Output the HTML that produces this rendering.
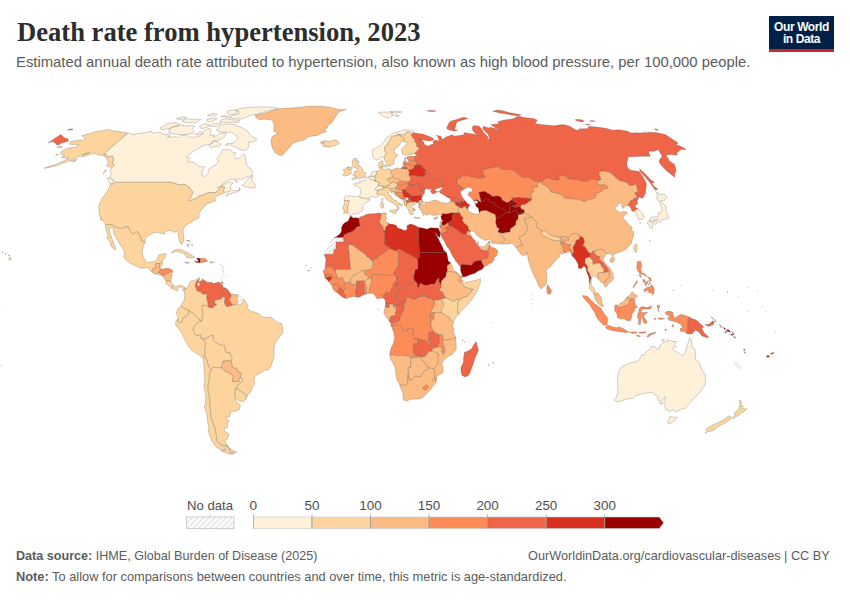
<!DOCTYPE html>
<html><head><meta charset="utf-8">
<style>
html,body{margin:0;padding:0;background:#fff;}
body{width:850px;height:600px;position:relative;overflow:hidden;font-family:"Liberation Sans",sans-serif;}
.abs{position:absolute;white-space:nowrap;}
#title{left:17px;top:12px;transform:scaleX(0.985);font-family:"Liberation Serif",serif;font-weight:bold;font-size:27px;line-height:40px;color:#2d2d2d;transform-origin:left center;}
#sub{left:16px;top:52px;transform:scaleX(0.9895);font-size:15px;line-height:20px;color:#5b5b5b;transform-origin:left center;}
#logo{left:769px;top:16px;width:65px;height:36px;background:#002147;border-bottom:3px solid #ce261e;box-sizing:border-box;color:#fff;font-weight:bold;font-size:12px;line-height:12px;text-align:center;letter-spacing:-0.4px;}
#logo span{display:block;}
.foot{font-size:13px;line-height:16px;color:#5b5b5b;transform-origin:left center;}
.leg{font-size:14px;line-height:16px;color:#4a4a4a;}
</style></head><body>
<div id="title" class="abs">Death rate from hypertension, 2023</div>
<div id="sub" class="abs">Estimated annual death rate attributed to hypertension, also known as high blood pressure, per 100,000 people.</div>
<div id="logo" class="abs"><span style="margin-top:5px">Our World</span><span>in Data</span></div>
<svg class="abs" style="left:0;top:85px" width="850" height="400" viewBox="0 85 850 400">
<defs><pattern id="nd" patternUnits="userSpaceOnUse" width="3.2" height="3.2" patternTransform="rotate(45)"><rect width="3.2" height="3.2" fill="#fff"/><line x1="1.6" y1="0" x2="1.6" y2="3.2" stroke="#d0d0d0" stroke-width="0.9"/></pattern></defs>
<g stroke="#444" stroke-opacity="0.55" stroke-width="0.45" stroke-linejoin="round">
<path fill="#fef0d9" d="M127.9 133.1L131.0 133.3L132.7 134.6L137.2 133.7L141.0 133.3L147.6 132.0L151.6 131.3L152.7 133.3L156.4 132.2L160.1 132.6L164.9 134.4L169.7 134.6L170.1 135.9L167.3 137.1L176.0 136.8L178.6 137.7L180.9 135.3L186.3 134.8L189.4 137.1L196.2 137.1L200.4 136.2L202.4 133.7L203.8 131.1L209.0 128.1L211.4 130.0L210.6 132.8L210.2 135.5L214.9 134.8L213.1 137.7L220.3 133.3L225.6 132.8L225.7 135.5L222.2 138.8L216.7 140.7L213.4 140.4L212.1 143.4L208.7 144.6L203.5 145.7L197.9 148.5L193.1 151.6L188.4 155.1L186.5 157.5L189.6 158.0L188.0 161.9L191.8 161.9L195.5 163.6L199.5 166.6L204.6 166.8L201.9 172.3L202.4 176.0L204.5 176.8L208.0 173.5L209.1 168.5L215.8 164.8L218.7 161.2L216.6 158.0L220.1 155.1L222.5 149.5L230.5 149.7L232.7 152.3L236.1 152.8L234.2 156.3L235.8 158.8L238.9 158.3L243.5 154.4L244.5 154.2L245.8 159.5L245.9 163.6L247.6 166.6L251.4 169.3L252.8 173.5L252.8 175.3L246.8 176.8L241.9 179.3L234.9 179.3L229.9 179.3L224.8 182.3L220.4 186.2L217.3 187.9L221.7 185.4L226.6 182.9L230.0 181.8L233.1 182.9L231.0 184.9L230.5 187.4L230.5 189.5L233.3 190.5L236.3 190.8L239.6 190.0L239.7 187.4L240.0 190.0L236.9 192.0L231.3 193.6L226.3 196.4L225.2 195.1L228.5 192.6L229.9 191.3L226.6 192.0L224.4 192.3L223.3 190.8L224.5 187.2L221.9 186.4L219.5 188.7L216.8 191.8L215.0 192.6L208.4 192.6L204.4 194.6L198.1 196.4L197.4 198.2L193.9 199.3L189.1 200.8L188.2 199.8L190.5 197.7L193.0 191.8L191.3 190.0L189.7 188.7L189.7 187.4L184.0 184.1L181.2 184.9L178.3 184.6L174.8 183.4L170.9 182.3L161.2 182.3L141.0 182.3L114.4 182.3L115.3 181.6L113.5 179.8L110.3 177.3L111.2 173.5L110.2 171.0L111.4 167.8L114.3 165.1L112.3 163.4L113.4 158.8L112.4 155.9L107.1 157.5L106.7 155.1L103.7 154.4L115.7 143.4L127.9 133.1ZM245.3 150.6L240.4 149.7L234.7 146.9L230.3 145.3L225.2 145.0L227.1 143.4L233.2 143.4L238.4 137.7L235.0 135.0L233.1 132.8L230.3 132.2L222.0 132.2L216.3 130.0L221.7 124.7L228.6 124.1L234.4 124.7L238.0 126.2L242.9 128.3L247.5 131.1L249.7 134.4L253.7 137.7L257.1 139.5L252.2 142.3L248.1 141.8L249.0 146.9ZM171.9 127.9L168.6 129.4L170.0 131.1L168.6 132.4L172.9 133.9L181.3 134.8L186.7 134.4L193.6 133.3L193.9 131.1L191.9 129.0L194.7 126.2L190.8 125.4L186.7 126.2L181.5 125.1L173.7 126.4ZM159.8 127.9L161.6 129.8L167.7 128.7L177.6 125.8L179.9 124.5L177.7 123.1L173.6 122.7L168.0 123.3L164.0 125.8ZM240.9 119.2L245.4 117.6L251.6 115.1L258.0 113.8L266.3 111.1L274.9 109.4L278.1 108.1L270.2 107.0L260.8 106.9L250.7 107.3L241.3 108.3L235.3 109.7L238.8 111.4L239.4 113.4L232.9 115.3L228.1 117.6L233.9 118.6ZM238.1 122.2L239.8 120.4L232.6 119.8L224.7 118.6L220.9 120.0L220.1 122.2L229.9 122.7ZM227.4 112.0L228.7 115.1L236.1 113.8L237.8 111.1L233.6 109.9L227.4 110.9ZM198.2 121.6L193.9 122.7L186.1 122.7L181.9 121.0L186.2 119.0L195.3 119.0L200.7 119.6ZM209.2 126.2L217.4 126.8L221.1 123.7L212.4 123.7ZM199.5 126.2L201.7 129.0L207.8 126.8L208.8 124.1L204.5 123.7ZM208.8 145.7L211.1 147.6L217.2 146.4L221.4 144.6L217.8 141.6L213.7 141.1ZM207.6 121.6L212.2 121.6L217.1 118.6L213.1 118.2L206.8 119.6ZM182.9 119.2L177.7 119.6L176.4 118.4L183.6 116.6L186.6 117.6ZM195.1 134.4L198.6 135.3L203.2 133.7L201.0 131.5ZM242.3 185.7L248.5 187.7L254.5 188.2L255.7 185.9L254.4 183.1L251.5 180.6L252.6 176.0L249.0 177.8L245.0 182.3ZM107.2 178.0L109.4 182.9L113.0 183.9L112.5 179.8L109.1 177.5ZM104.5 169.8L103.3 174.3L107.0 170.3ZM234.6 180.3L238.1 181.8L236.0 182.1ZM220.9 116.6L228.0 117.0L225.1 115.7ZM207.3 115.7L215.7 116.1L217.1 113.8L211.8 113.4Z"/>
<path fill="#fdd49e" d="M114.4 182.3L113.5 184.4L110.4 183.9L109.2 187.7L108.3 189.5L104.7 195.1L102.0 198.2L101.2 200.8L99.0 204.4L98.9 206.8L99.0 210.2L99.3 211.7L99.4 214.3L100.3 216.9L100.1 219.6L103.0 220.9L104.1 221.6L105.5 224.8L111.1 224.5L118.0 228.2L124.2 228.2L124.6 226.9L128.3 226.9L131.1 232.4L133.5 234.2L135.9 232.1L138.1 232.1L140.1 236.3L140.8 238.1L141.3 241.0L145.1 242.3L145.5 238.1L148.1 235.5L151.9 233.7L154.9 232.4L158.8 232.6L161.9 233.7L164.5 233.9L164.7 231.1L168.1 230.8L171.5 230.5L173.7 232.4L176.9 231.3L178.5 233.9L178.5 237.3L179.4 240.7L180.7 244.1L182.4 244.1L184.0 239.9L183.5 235.5L182.9 230.3L184.7 226.4L188.6 223.7L192.5 221.4L195.8 219.3L198.9 217.7L198.9 213.6L199.8 212.0L201.8 209.4L202.8 208.1L205.5 205.5L206.0 203.9L210.6 202.9L212.7 201.6L215.4 201.1L214.6 199.0L215.1 197.5L217.5 195.7L220.7 194.4L224.2 193.1L224.4 192.3L223.3 190.8L224.5 187.2L221.9 186.4L219.5 188.7L216.8 191.8L215.0 192.6L208.4 192.6L204.4 194.6L198.1 196.4L197.4 198.2L193.9 199.3L189.1 200.8L188.2 199.8L190.5 197.7L193.0 191.8L191.3 190.0L189.7 188.7L189.7 187.4L184.0 184.1L181.2 184.9L178.3 184.6L174.8 183.4L170.9 182.3L161.2 182.3L141.0 182.3L114.4 182.3ZM127.9 133.1L115.7 143.4L103.7 154.4L106.7 155.1L107.1 157.5L112.4 155.9L113.4 158.8L112.3 163.4L114.3 165.1L111.4 167.8L110.4 167.3L106.7 166.1L108.1 162.4L107.1 159.5L106.1 157.5L104.1 155.9L101.2 155.1L97.5 155.1L95.8 153.2L91.4 154.0L86.8 155.6L81.5 157.1L84.0 154.0L89.6 152.3L79.5 156.3L75.0 158.8L68.7 161.2L62.2 163.6L56.3 165.6L49.7 167.3L44.2 168.3L50.1 166.1L55.2 164.8L63.0 161.2L69.0 158.3L66.5 158.0L61.5 157.5L64.3 155.1L60.5 153.7L61.6 151.3L66.9 148.5L71.7 147.6L76.2 146.9L79.1 144.6L75.6 144.6L69.7 144.3L70.0 142.0L75.5 140.7L80.2 139.8L82.4 140.7L85.7 138.8L83.6 137.3L81.6 135.7L85.7 134.6L90.9 133.3L96.0 131.5L103.3 130.5L107.7 129.2L110.2 130.2L113.9 131.1L118.6 131.3L122.4 132.2ZM71.0 161.7L75.0 161.4L77.4 159.5L74.7 160.0ZM56.8 147.1L60.7 147.8L62.3 146.9L60.2 146.2ZM55.6 154.7L57.2 155.4L58.4 154.2ZM9.0 258.5L9.3 260.5L11.6 259.0L9.6 256.9ZM8.2 255.4L9.6 256.2L9.6 255.1ZM4.9 253.8L6.2 254.3L6.0 253.3ZM1.9 252.2L2.9 252.8L2.9 251.8Z"/>
<path fill="#fdd49e" d="M145.1 242.3L141.3 241.0L140.8 238.1L140.1 236.3L138.1 232.1L135.9 232.1L133.5 234.2L131.1 232.4L128.3 226.9L124.6 226.9L124.2 228.2L118.0 228.2L111.1 224.5L105.5 224.8L105.6 227.7L106.5 231.1L107.6 234.7L108.3 236.8L106.4 237.3L109.0 240.2L110.9 244.7L111.1 246.0L113.9 249.1L115.0 250.1L116.2 248.6L114.5 246.0L113.5 242.0L111.8 238.1L110.6 234.2L109.4 230.3L110.0 227.1L113.5 228.4L113.5 232.1L115.5 236.8L117.9 240.7L119.4 243.9L122.1 247.3L123.8 250.4L124.8 253.8L123.7 256.7L126.1 260.1L129.8 262.9L132.9 264.8L137.2 266.6L141.5 268.4L146.2 267.7L148.4 268.2L152.1 272.1L152.3 270.3L153.7 267.9L156.5 267.9L155.7 265.0L155.9 263.5L160.0 263.5L162.2 261.6L164.4 259.0L166.0 255.1L165.8 253.8L162.8 253.8L158.6 255.1L157.1 259.0L155.0 261.6L151.5 261.9L148.0 262.4L145.3 260.9L144.1 258.2L142.7 255.1L142.2 251.2L143.0 247.3Z"/>
<path fill="#fdbb84" d="M152.1 272.1L154.0 273.7L156.7 274.1L158.5 272.4L159.0 271.8L161.4 269.0L160.0 268.4L159.4 268.4L160.0 263.5L155.9 263.5L155.7 265.0L156.5 267.9L153.7 267.9L152.3 270.3Z"/>
<path fill="#fdd49e" d="M159.4 268.4L160.0 268.4L161.6 266.9L162.4 264.3L162.7 261.9L162.2 261.6L160.0 263.2Z"/>
<path fill="#fdd49e" d="M156.7 274.1L159.1 275.0L161.8 275.5L162.2 273.9L160.4 273.4L158.5 272.4Z"/>
<path fill="#fc8d59" d="M161.4 269.0L164.4 268.7L166.7 268.2L168.9 268.4L171.1 269.2L172.8 270.8L170.9 271.6L168.5 272.9L166.1 273.9L164.2 275.2L162.9 276.1L161.8 275.5L162.2 273.9L160.4 273.4L158.5 272.4L159.0 271.8Z"/>
<path fill="#fdbb84" d="M172.8 270.8L172.0 274.7L171.2 278.6L170.8 281.2L168.5 281.2L166.2 281.0L164.5 279.2L162.9 276.1L164.2 275.2L166.1 273.9L168.5 272.9L170.9 271.6Z"/>
<path fill="#fdd49e" d="M170.8 281.2L172.2 283.9L173.1 284.9L172.2 288.8L170.9 287.8L168.7 285.2L166.0 283.9L166.2 281.0L168.5 281.2Z"/>
<path fill="#fdd49e" d="M173.1 284.9L175.5 286.7L179.0 285.7L181.4 285.2L183.8 286.7L184.9 287.5L185.1 289.4L183.6 291.2L182.3 288.3L180.1 286.7L178.2 288.6L177.6 290.9L175.4 290.1L172.2 288.8Z"/>
<path fill="#fdd49e" d="M171.1 252.8L173.4 250.7L176.9 249.6L181.4 249.6L184.6 251.4L187.8 253.0L191.0 254.8L194.8 257.2L192.9 258.0L187.2 258.0L186.3 255.9L183.2 253.3L178.9 252.0L176.0 251.2L173.2 252.5Z"/>
<path fill="#fdbb84" d="M184.9 261.9L189.4 262.7L188.0 263.5L185.1 262.7Z"/>
<path fill="#990000" d="M193.9 261.4L196.9 262.4L199.9 262.7L200.3 258.5L197.4 258.0L196.4 258.8L197.9 259.6L198.4 261.4Z"/>
<path fill="#fc8d59" d="M200.3 258.5L204.2 258.2L206.3 259.6L207.5 261.4L205.0 261.9L201.5 262.4L199.9 262.7Z"/>
<path fill="#fdd49e" d="M210.2 261.6L213.8 261.9L213.3 262.9L210.1 262.9Z"/>
<path fill="#ef6548" d="M187.1 244.4L188.2 246.5L188.7 244.7ZM186.6 240.5L188.9 240.2L190.0 241.5L190.1 242.3L189.5 240.7ZM191.7 244.1L192.3 246.0L192.1 244.1Z"/>
<path fill="#fc8d59" d="M221.0 282.0L222.9 281.8L222.8 283.6L221.0 283.6Z"/>
<path fill="#fdbb84" d="M255.1 115.3L268.3 112.0L279.8 108.6L294.2 107.8L308.9 106.3L322.5 106.2L332.7 107.8L337.8 109.4L346.2 109.4L338.6 112.0L336.3 115.7L333.9 119.6L331.7 122.7L327.8 125.8L327.4 127.9L323.7 130.0L326.6 131.5L321.3 133.3L317.4 135.5L308.7 136.6L304.3 140.0L296.8 141.8L292.8 143.4L290.0 146.9L284.5 152.8L282.8 155.1L279.9 155.4L275.3 152.8L273.0 149.2L271.7 145.7L271.0 141.1L272.2 136.6L277.9 133.3L273.9 131.1L273.9 127.9L274.1 124.7L272.8 121.6L271.1 119.6L265.3 119.2L258.9 119.6L256.0 117.6Z"/>
<path fill="#fdd49e" d="M320.2 142.3L325.0 140.2L328.2 141.8L331.8 140.7L335.4 140.0L337.8 141.1L339.3 143.4L336.5 145.0L330.9 146.9L326.5 146.9L322.7 146.2L324.2 144.6L320.9 143.6L324.6 142.5Z"/>
<path fill="#fdd49e" d="M243.7 299.0L245.3 300.9L247.6 305.3L247.6 308.7L249.9 310.0L251.0 311.8L253.3 311.6L259.1 313.9L261.4 316.5L266.1 317.3L270.7 317.3L274.2 319.7L277.7 322.8L281.6 323.6L282.9 328.8L282.5 333.5L279.1 337.4L276.9 340.6L274.8 344.0L273.8 349.2L274.2 356.5L272.3 362.3L270.3 367.5L268.2 370.0L264.9 370.1L261.6 372.2L257.3 374.6L254.2 377.4L254.3 381.9L254.4 384.8L252.1 387.9L250.5 392.3L248.2 394.2L246.2 398.1L246.2 395.5L244.1 393.4L240.3 390.8L237.2 388.9L235.4 388.9L238.7 384.0L242.4 381.4L242.6 379.3L240.5 376.9L240.8 373.0L238.3 372.7L237.5 369.1L236.5 368.3L232.4 367.8L231.4 361.8L231.9 357.1L230.2 355.2L229.8 352.6L225.6 352.3L224.5 345.8L219.8 344.8L215.6 342.7L213.1 340.1L212.9 335.6L210.1 335.9L205.7 338.8L203.2 338.8L200.9 338.8L200.7 334.8L197.0 335.9L194.7 334.6L193.0 329.1L194.8 325.7L197.0 323.1L199.5 321.2L201.5 321.0L202.8 313.1L201.8 308.7L201.9 305.6L206.0 305.3L208.5 306.9L211.8 307.9L216.7 304.2L214.1 303.5L215.4 299.5L218.4 299.5L221.1 298.8L223.1 296.4L224.4 296.4L225.3 298.2L224.5 302.2L225.0 304.0L226.8 306.6L229.1 306.1L232.6 305.0L233.7 305.0L237.0 304.0L239.5 304.2L241.8 303.5L243.7 299.0Z"/>
<path fill="#fdd49e" d="M184.9 287.5L186.2 289.1L188.2 285.7L189.5 282.6L191.2 281.0L194.3 280.5L197.1 278.9L199.5 277.6L199.4 279.2L196.8 281.0L195.2 285.2L196.2 288.3L197.2 290.9L200.6 291.7L202.8 294.1L207.5 293.8L206.6 298.2L207.7 301.4L208.5 306.9L206.0 305.3L201.9 305.6L201.8 308.7L202.8 313.1L201.5 321.0L199.9 319.9L195.7 316.3L193.3 313.9L189.1 310.3L186.4 309.2L183.4 307.9L181.1 306.3L181.8 303.5L184.2 300.1L184.8 295.6L184.5 292.2L183.6 291.2L185.1 289.4Z"/>
<path fill="#ef6548" d="M199.4 279.2L198.3 281.8L199.9 281.5L202.3 279.9L202.4 278.4L203.5 279.9L206.2 281.2L206.8 282.6L211.4 282.3L213.6 283.6L216.0 282.8L219.4 282.0L220.5 283.9L222.7 285.2L223.1 287.5L224.9 287.8L223.2 290.4L222.0 293.0L221.7 294.6L223.1 296.4L221.1 298.8L218.4 299.5L215.4 299.5L214.1 303.5L216.7 304.2L211.8 307.9L208.5 306.9L207.7 301.4L206.6 298.2L207.5 293.8L202.8 294.1L200.6 291.7L197.2 290.9L196.2 288.3L195.2 285.2L196.8 281.0L199.4 279.2Z"/>
<path fill="#ef6548" d="M224.9 287.8L227.2 289.1L229.4 292.2L231.2 294.6L230.9 296.9L229.2 299.5L230.3 301.4L232.6 305.0L229.1 306.1L226.8 306.6L225.0 304.0L224.5 302.2L225.3 298.2L224.4 296.4L223.1 296.4L221.7 294.6L222.0 293.0L223.2 290.4L224.9 287.8Z"/>
<path fill="#fdbb84" d="M231.2 294.6L234.2 294.6L238.5 294.8L237.5 298.2L237.9 301.6L237.0 304.0L233.7 305.0L232.6 305.0L230.3 301.4L229.2 299.5L230.9 296.9L231.2 294.6Z"/>
<path fill="url(#nd)" stroke="#bbb" d="M238.5 294.8L241.9 297.2L243.7 299.0L241.8 303.5L239.5 304.2L237.0 304.0L237.9 301.6L237.5 298.2L238.5 294.8Z"/>
<path fill="#fdd49e" d="M181.1 306.3L178.3 307.9L177.1 311.3L176.0 312.9L177.7 316.5L177.7 318.9L177.8 321.5L179.7 322.8L182.0 321.8L183.0 317.8L186.4 316.5L188.7 313.9L189.1 310.3L186.4 309.2L183.4 307.9L181.1 306.3Z"/>
<path fill="#fdd49e" d="M177.7 318.9L175.5 322.0L175.9 325.7L179.2 328.8L182.5 334.8L185.1 340.1L188.3 346.1L191.7 350.5L197.7 353.9L202.9 357.8L204.7 355.7L205.5 352.3L204.4 349.2L205.3 347.1L205.5 342.7L203.2 338.8L200.9 338.8L200.7 334.8L197.0 335.9L194.7 334.6L193.0 329.1L194.8 325.7L197.0 323.1L199.5 321.2L201.5 321.0L199.9 319.9L195.7 316.3L193.3 313.9L189.1 310.3L188.7 313.9L186.4 316.5L183.0 317.8L182.0 321.8L179.7 322.8L177.8 321.5L177.7 318.9Z"/>
<path fill="#fdd49e" d="M203.2 338.8L205.7 338.8L210.1 335.9L212.9 335.6L213.1 340.1L215.6 342.7L219.8 344.8L224.5 345.8L225.6 352.3L229.8 352.6L230.2 355.2L231.9 357.1L231.4 361.8L229.0 360.4L223.0 361.2L221.6 368.0L218.4 367.5L216.1 367.8L213.1 367.0L211.3 369.6L209.3 367.5L207.8 363.6L207.1 361.0L204.7 355.7L205.5 352.3L204.4 349.2L205.3 347.1L205.5 342.7L203.2 338.8Z"/>
<path fill="#fdd49e" d="M202.9 357.8L203.8 362.3L204.1 371.4L204.8 378.0L204.0 385.8L204.8 391.0L205.9 396.3L205.5 402.8L204.5 407.2L206.6 413.2L207.2 418.4L207.9 423.6L208.8 427.4L208.5 432.1L210.1 436.4L212.0 441.5L214.5 445.2L217.2 447.7L220.7 449.5L223.9 450.0L224.9 449.7L224.5 447.0L226.1 446.0L228.3 446.2L225.9 445.5L220.8 445.2L219.1 442.7L216.1 440.2L216.7 437.7L216.0 433.1L215.5 428.7L213.3 423.6L211.0 417.1L210.7 411.9L209.8 406.7L210.0 401.5L209.4 396.3L208.1 389.7L208.2 384.5L209.6 378.7L209.4 374.0L211.3 369.6L209.3 367.5L207.8 363.6L207.1 361.0L204.7 355.7L202.9 357.8ZM228.3 447.0L226.4 446.7L225.4 449.0L226.4 450.5L220.8 450.5L225.1 452.7L230.6 454.2L232.6 454.2L234.1 453.4L230.6 452.4Z"/>
<path fill="#fdd49e" d="M228.3 446.2L225.7 442.7L225.0 440.9L226.9 438.9L229.2 434.6L224.6 431.3L224.2 428.7L227.5 427.4L227.3 423.6L229.0 421.0L225.4 417.1L229.6 417.1L230.3 413.2L230.3 411.7L236.6 410.9L239.5 409.3L240.4 405.4L238.7 403.6L235.5 399.7L235.3 398.6L235.1 396.3L235.1 392.3L235.4 388.9L238.7 384.0L242.4 381.4L242.6 379.3L240.5 376.9L238.4 381.6L236.8 381.6L232.0 381.1L233.5 376.1L230.2 373.5L225.5 371.4L221.6 368.0L218.4 367.5L216.1 367.8L213.1 367.0L211.3 369.6L209.4 374.0L209.6 378.7L208.2 384.5L208.1 389.7L209.4 396.3L210.0 401.5L209.8 406.7L210.7 411.9L211.0 417.1L213.3 423.6L215.5 428.7L216.0 433.1L216.7 437.7L216.1 440.2L219.1 442.7L220.8 445.2L225.9 445.5L228.3 446.2ZM228.3 447.0L230.1 448.5L234.0 451.0L237.0 451.9L234.8 452.8L230.6 452.4Z"/>
<path fill="#fdbb84" d="M221.6 368.0L225.5 371.4L230.2 373.5L233.5 376.1L232.0 381.1L236.8 381.6L238.4 381.6L240.5 376.9L240.8 373.0L238.3 372.7L237.5 369.1L236.5 368.3L232.4 367.8L231.4 361.8L229.0 360.4L223.0 361.2L221.6 368.0Z"/>
<path fill="#fdd49e" d="M235.3 398.6L238.7 400.4L241.1 401.2L243.5 401.4L246.1 398.9L246.2 398.1L246.2 395.5L244.1 393.4L240.3 390.8L237.2 388.9L235.4 388.9L235.1 392.3L235.1 396.3L235.3 398.6Z"/>
<path fill="#ef6548" d="M414.6 132.8L418.1 133.5L423.4 134.2L431.1 137.3L434.2 139.1L432.2 140.4L428.9 140.9L423.4 140.0L419.9 139.8L418.7 138.6L423.5 141.6L424.2 144.6L427.8 145.9L430.1 145.9L430.1 144.8L433.5 144.3L434.4 144.6L432.8 142.3L433.3 141.1L435.5 140.0L439.3 140.9L439.8 141.3L438.5 138.8L437.3 135.5L436.0 135.3L440.9 136.2L442.2 139.3L443.7 138.8L445.6 137.3L452.2 134.8L454.5 136.2L459.2 135.5L464.0 134.8L464.5 132.6L463.5 132.4L470.9 133.7L475.6 134.6L478.9 135.9L474.7 133.1L473.2 131.1L472.2 129.0L472.8 126.2L474.6 125.4L479.2 126.2L481.6 129.0L484.0 133.3L487.8 136.6L487.6 140.4L488.2 140.0L489.4 137.7L488.1 134.4L482.8 129.0L483.2 126.2L488.5 127.9L489.6 127.2L494.5 128.3L499.9 131.1L497.4 129.0L490.8 124.7L498.6 123.7L498.2 121.6L504.3 120.0L512.4 119.0L518.5 116.2L524.3 117.6L533.2 118.6L537.3 120.0L534.9 123.7L536.9 124.1L543.2 124.7L551.1 125.4L554.8 125.8L558.8 125.1L563.6 124.5L569.7 126.2L574.8 129.6L578.3 130.5L578.9 129.0L582.7 128.7L587.6 128.7L588.2 126.8L590.9 126.4L598.5 127.2L606.8 128.5L612.5 130.2L618.4 129.8L626.9 131.1L631.7 133.3L634.4 132.8L641.4 133.1L645.1 132.2L648.4 134.4L646.7 132.2L655.7 132.6L665.2 134.4L677.7 142.7L677.1 144.1L674.7 143.9L679.4 145.7L684.2 148.0L686.0 149.7L681.5 149.2L679.2 150.9L677.1 152.8L677.0 155.1L670.1 154.4L667.3 155.1L665.7 155.4L668.7 158.8L668.8 160.5L674.5 164.4L675.3 167.3L676.0 171.8L674.8 173.5L674.8 177.3L669.9 173.5L665.5 169.8L660.7 164.8L658.9 161.2L660.3 158.8L662.2 156.3L659.3 151.6L658.4 149.5L653.8 151.6L652.0 150.9L648.4 151.6L650.2 156.3L642.8 156.3L637.4 156.6L632.1 156.8L628.4 156.8L627.2 161.2L626.8 164.8L628.2 168.5L630.7 170.3L636.3 171.0L639.5 171.8L641.5 174.8L644.6 179.8L646.4 183.6L646.1 187.4L645.3 193.8L642.8 198.2L639.1 197.2L637.8 199.3L637.7 199.5L636.5 198.2L636.9 196.4L634.2 192.8L637.9 192.0L636.1 184.1L632.5 185.4L629.6 185.7L626.5 182.6L618.9 180.3L610.3 172.8L604.1 171.0L599.2 171.5L598.9 173.3L601.1 179.3L599.7 180.8L597.0 180.1L592.0 179.1L586.5 181.6L579.9 180.6L576.0 179.1L569.0 179.1L566.1 176.5L558.5 174.8L559.0 177.3L559.4 179.8L557.7 180.3L553.4 179.8L546.3 177.8L542.9 180.8L539.9 181.8L539.0 182.1L535.9 181.1L534.2 180.8L528.1 177.3L522.4 177.8L515.1 171.5L511.6 169.5L505.9 169.8L501.2 169.3L499.4 166.6L494.5 167.3L489.7 168.3L482.6 169.8L483.2 174.0L485.2 176.8L481.8 178.5L472.4 177.3L468.1 176.0L463.6 175.5L459.8 178.3L457.0 179.1L457.2 183.9L459.6 185.4L463.4 188.2L464.0 189.2L460.9 191.0L460.4 193.1L462.5 197.7L465.2 200.7L463.0 202.1L461.0 200.7L457.4 198.5L454.1 198.0L450.8 197.2L446.6 196.7L443.0 194.4L440.3 193.1L439.0 191.5L441.1 189.5L443.3 187.2L441.0 187.2L443.9 185.1L443.6 180.8L439.2 180.1L433.9 178.8L431.1 176.8L429.0 174.0L425.8 174.5L424.3 172.0L426.9 171.3L422.5 167.8L422.8 167.3L422.3 165.8L416.8 164.5L415.5 161.7L414.6 161.1L414.7 160.3L414.1 158.3L415.0 156.5L415.7 155.6L418.7 155.4L415.3 154.0L414.0 153.8L415.9 152.3L417.3 150.4L419.5 148.3L416.3 146.2L416.6 143.9L414.8 142.0L414.8 140.0L412.4 137.3L411.1 135.5L411.5 134.3L411.6 133.9L413.0 132.8ZM401.0 168.7L401.6 167.4L403.4 166.6L404.0 166.7L407.0 167.3L407.2 168.9ZM446.6 128.3L447.7 125.8L449.1 122.7L451.2 121.0L457.6 119.2L462.5 117.6L465.5 117.6L467.8 118.6L462.8 120.0L457.8 121.6L456.0 123.7L455.5 126.8L454.5 129.4L457.7 130.9L453.6 130.9L447.9 129.4ZM492.7 111.3L498.0 109.9L503.6 110.9L508.6 112.5L514.2 113.4L521.1 114.7L517.5 115.9L510.1 114.7L504.5 113.8L498.8 112.7ZM575.9 120.6L582.0 122.0L584.3 121.0L580.4 119.6L575.5 119.4ZM589.3 121.2L595.8 121.4L592.1 120.6ZM585.3 124.7L590.6 125.1L587.2 123.9ZM655.6 130.0L658.5 130.2L656.3 129.0L654.3 128.7ZM426.8 110.8L430.8 110.4L436.0 110.8L434.4 111.4L430.0 111.4ZM639.5 168.8L644.9 173.5L650.6 179.8L654.6 182.3L651.9 182.9L654.2 186.7L656.7 187.9L657.6 189.5L655.1 190.0L652.4 186.2L649.7 182.3L645.5 177.3L642.4 174.3L640.2 171.5ZM60.8 134.4L62.6 135.9L64.2 137.7L67.7 138.8L68.6 140.7L68.7 140.9L65.8 142.0L61.6 142.9L59.0 144.8L57.3 145.0L55.9 144.1L55.2 142.7L53.3 142.3L52.7 141.1L50.7 142.3L48.3 142.7ZM67.5 130.2L72.4 129.8L73.0 129.0L69.7 129.0Z"/>
<path fill="#fef0d9" d="M384.4 157.5L382.5 156.8L380.7 158.0L378.0 159.7L376.1 160.0L373.5 158.3L372.6 155.1L372.1 151.6L372.4 149.9L375.5 148.3L378.1 146.9L380.7 145.7L382.3 143.6L384.7 141.1L385.3 138.8L387.7 137.1L389.2 135.9L390.8 134.8L393.0 133.3L396.2 132.2L399.4 131.5L401.7 130.7L405.2 129.8L408.9 130.0L412.4 130.9L414.3 131.5L413.0 132.8L411.6 133.9L411.5 134.3L410.4 132.6L409.2 132.0L406.2 132.4L406.0 133.9L403.4 135.0L400.0 134.6L397.6 134.3L396.8 135.7L393.5 135.9L391.1 137.1L389.8 140.4L388.3 142.3L387.7 145.0L385.2 146.2L384.5 148.0L385.2 151.6L386.0 152.5L385.6 154.4L384.8 155.9L384.4 157.5ZM378.2 112.9L382.2 115.3L383.9 116.6L388.0 118.4L390.7 116.6L394.0 115.1L390.7 113.8L393.2 112.3L386.0 112.0L378.8 112.3ZM390.2 111.6L394.9 113.1L401.8 112.2L400.0 111.3L394.3 111.1ZM394.8 115.3L398.1 116.6L399.4 115.9L396.8 114.7Z"/>
<path fill="#fdd49e" d="M384.4 157.5L384.0 159.2L385.7 161.7L387.4 164.1L387.8 166.1L390.3 166.3L390.7 164.8L393.5 164.4L394.1 161.2L394.7 158.3L397.3 156.3L397.6 154.7L394.5 153.2L394.1 150.4L395.3 148.5L397.7 146.9L400.0 144.6L400.6 142.7L402.1 141.6L404.9 141.6L403.9 140.0L403.6 137.7L400.1 135.5L397.6 134.3L396.8 135.7L393.5 135.9L391.1 137.1L389.8 140.4L388.3 142.3L387.7 145.0L385.2 146.2L384.5 148.0L385.2 151.6L386.0 152.5L385.6 154.4L384.8 155.9L384.4 157.5Z"/>
<path fill="#fdd49e" d="M404.9 141.6L407.4 143.4L406.3 145.0L403.2 147.3L401.3 149.2L402.3 152.8L402.1 154.0L405.0 155.1L405.5 155.4L409.0 154.7L414.0 153.8L415.9 152.3L417.3 150.4L419.5 148.3L416.3 146.2L416.6 143.9L414.8 142.0L414.8 140.0L412.4 137.3L411.1 135.5L411.5 134.3L410.4 132.6L409.2 132.0L406.2 132.4L406.0 133.9L403.4 135.0L400.0 134.6L397.6 134.3L400.1 135.5L403.6 137.7L403.9 140.0L404.9 141.6Z"/>
<path fill="#fdd49e" d="M379.6 167.6L378.5 165.8L378.4 163.4L379.3 162.2L381.9 160.9L383.0 160.7L382.6 163.4L383.8 163.9L382.5 165.3L381.7 166.8L381.3 167.8ZM384.1 165.6L385.9 164.6L387.1 165.6L386.5 167.1L384.6 166.8ZM381.8 166.1L383.8 166.3L383.4 167.3L382.3 167.1Z"/>
<path fill="#fdd49e" d="M351.6 179.6L356.0 179.1L359.0 178.3L363.0 177.8L365.8 176.8L364.6 175.8L366.3 173.0L363.6 172.3L362.8 170.8L362.4 168.5L360.1 166.8L359.2 165.1L357.3 164.8L358.2 163.6L359.2 161.2L356.4 160.7L355.5 160.9L357.2 158.5L353.7 158.5L352.1 161.2L352.3 163.6L352.4 166.1L353.7 167.6L356.2 167.6L357.2 169.8L357.1 171.3L354.2 171.5L354.6 173.0L354.9 174.0L352.7 175.0L354.7 175.8L357.0 176.3L357.0 176.8L354.1 177.0ZM347.5 168.5L348.9 167.1L351.3 166.8L352.4 168.3L351.0 169.5L348.4 169.3Z"/>
<path fill="#fdd49e" d="M351.0 169.5L351.3 171.5L350.8 174.0L347.2 175.5L343.6 176.0L342.7 174.5L344.3 173.3L344.4 171.5L343.5 171.0L343.6 169.3L346.5 168.8L347.0 167.1L348.9 167.1L347.5 168.5L348.4 169.3Z"/>
<path fill="#fef0d9" d="M359.2 196.7L360.5 193.8L360.7 191.3L360.5 189.5L358.5 187.2L357.3 186.2L354.3 185.4L353.5 183.9L355.9 182.9L359.2 183.1L360.0 183.2L359.6 180.6L360.6 181.3L363.4 181.1L366.0 179.6L366.2 177.5L368.0 177.0L369.0 177.8L371.2 179.9L372.6 179.6L374.7 181.1L375.7 181.1L377.1 181.8L379.5 182.3L378.5 185.9L377.3 186.2L375.3 189.0L375.5 189.5L377.0 190.3L377.4 190.3L377.5 192.0L376.9 193.8L378.6 195.7L376.6 197.5L373.9 196.9L371.4 196.4L369.5 197.5L369.5 199.1L366.8 199.0L364.5 198.2L361.5 198.0L359.2 196.7ZM381.1 199.3L382.7 197.7L383.0 200.3L382.4 201.9L381.1 200.6Z"/>
<path fill="#fef0d9" d="M359.2 196.7L355.7 196.4L351.5 196.2L347.4 195.8L344.2 197.2L344.2 200.7L345.9 200.6L349.1 200.4L349.9 201.3L348.4 202.9L348.1 206.3L347.2 206.8L348.0 209.4L347.3 210.7L347.0 212.8L348.1 212.8L349.4 214.3L350.9 215.9L353.3 214.1L358.2 213.9L359.3 212.3L361.5 211.5L363.4 208.7L362.4 206.8L364.5 203.7L365.1 202.8L367.6 201.9L369.7 200.6L369.5 199.1L366.8 199.0L364.5 198.2L361.5 198.0L359.2 196.7Z"/>
<path fill="#fdd49e" d="M344.2 200.7L344.6 203.7L342.9 207.3L342.7 208.9L344.1 209.6L344.1 210.9L343.6 213.3L345.9 213.3L347.0 212.8L347.3 210.7L348.0 209.4L347.2 206.8L348.1 206.3L348.4 202.9L349.9 201.3L349.1 200.4L345.9 200.6L344.2 200.7Z"/>
<path fill="#fef0d9" d="M368.0 177.0L369.7 176.3L371.5 176.3L372.9 176.0L374.5 176.8L374.4 177.8L375.6 178.5L375.2 179.6L374.7 181.1L372.6 179.6L371.2 179.9L369.0 177.8Z"/>
<path fill="#fef0d9" d="M369.7 176.3L370.9 174.8L372.2 172.3L373.7 171.3L376.7 171.3L377.1 171.8L376.8 173.5L376.2 175.0L374.9 175.3L375.1 176.8L374.5 176.8L372.9 176.0L371.5 176.3Z"/>
<path fill="#fef0d9" d="M374.7 181.1L375.2 179.6L376.0 180.3L375.7 181.1Z"/>
<path fill="#fdd49e" d="M376.7 171.3L378.6 170.5L379.7 170.0L380.3 169.3L379.6 167.6L381.3 167.8L382.4 168.5L384.4 169.8L386.9 169.0L389.1 168.5L390.6 170.0L391.2 171.8L390.7 172.8L392.0 174.5L392.8 177.3L392.5 177.7L391.5 177.3L389.0 178.5L387.4 179.1L388.1 180.3L390.9 183.0L389.0 184.4L389.5 185.9L387.8 185.9L384.4 186.4L382.6 186.2L380.3 185.7L378.5 185.9L379.5 182.3L377.1 181.8L375.7 181.1L376.0 180.3L375.2 179.6L375.6 178.5L374.8 177.8L375.1 176.8L374.9 175.3L376.2 175.0L376.8 173.5L377.1 171.8Z"/>
<path fill="#fef0d9" d="M375.5 189.5L375.3 189.0L377.3 186.2L378.5 185.9L380.3 185.7L382.6 186.2L382.4 187.2L384.3 187.8L384.3 188.7L382.1 189.0L381.5 190.3L380.2 189.2L379.3 190.3L377.4 190.3L377.0 190.3Z"/>
<path fill="#fdd49e" d="M382.6 186.2L384.4 186.4L387.8 185.9L389.5 185.9L389.0 184.4L390.9 183.0L393.3 182.3L397.2 183.1L397.7 184.9L396.6 186.4L395.9 187.8L393.7 188.5L391.1 188.7L388.4 188.2L387.7 187.4L384.3 187.8L382.4 187.2Z"/>
<path fill="#fdd49e" d="M378.6 195.7L380.7 194.4L383.4 194.9L384.5 196.4L386.1 199.0L388.7 201.1L391.5 202.4L393.8 203.9L396.2 205.5L397.2 208.1L396.7 210.7L397.6 210.4L399.6 208.1L398.2 206.3L398.9 204.4L401.3 205.7L402.2 206.0L402.3 205.0L399.0 202.9L396.8 201.6L396.7 200.6L394.6 200.3L392.4 198.5L391.4 196.4L389.0 194.6L388.4 192.0L390.0 190.8L391.2 190.8L390.9 189.5L391.1 188.7L388.4 188.2L387.7 187.4L384.3 187.8L384.3 188.7L382.1 189.0L381.5 190.3L380.2 189.2L379.3 190.3L377.4 190.3L377.5 192.0L376.9 193.8ZM389.6 210.7L391.6 210.2L396.5 209.9L395.6 214.1L393.2 213.0L389.9 211.7ZM380.4 202.9L382.4 202.2L383.8 204.2L383.5 207.6L382.0 208.3L380.9 207.6L380.8 204.7Z"/>
<path fill="#fdbb84" d="M390.6 170.0L394.0 169.0L397.8 167.8L399.4 168.8L401.0 168.7L407.2 168.9L408.7 169.9L409.6 173.3L408.7 174.3L409.8 176.0L410.9 178.5L409.2 182.3L408.6 182.1L405.3 181.3L402.9 181.8L401.0 181.1L399.1 179.8L396.8 178.8L394.9 178.3L392.8 177.3L392.0 174.5L390.7 172.8L391.2 171.8Z"/>
<path fill="#fdbb84" d="M387.4 179.1L389.0 178.5L391.5 177.3L392.8 177.3L394.9 178.3L396.8 178.8L399.1 179.8L401.0 181.1L398.7 182.3L397.2 183.1L393.3 182.3L390.9 183.0L388.1 180.3Z"/>
<path fill="#fc8d59" d="M397.2 183.1L398.7 182.3L401.0 181.1L402.9 181.8L405.3 181.3L408.6 182.1L408.0 183.9L405.5 183.6L403.6 184.4L401.2 185.4L399.2 185.5L397.7 184.9Z"/>
<path fill="#fc8d59" d="M397.7 184.9L399.2 185.5L401.2 185.4L403.6 184.4L405.5 183.6L408.0 183.9L409.5 184.9L407.8 186.2L406.5 189.0L404.7 189.6L402.1 190.3L401.7 190.3L399.0 190.1L396.8 188.7L395.9 187.8L396.6 186.4Z"/>
<path fill="#fdd49e" d="M391.1 191.3L390.9 189.5L391.1 188.7L393.7 188.5L395.9 187.8L396.8 188.7L395.3 189.5L394.6 191.3L392.9 191.3Z"/>
<path fill="#fdbb84" d="M391.1 191.3L392.9 191.3L394.6 191.3L395.3 189.5L396.8 188.7L399.0 190.1L401.7 190.3L402.4 191.5L403.1 192.0L402.3 192.8L400.2 192.3L397.9 192.0L395.7 192.0L395.5 193.1L396.7 194.6L398.9 196.7L399.9 197.8L401.9 199.1L399.9 198.2L397.4 196.4L396.2 195.9L394.6 194.6L393.8 192.6L392.5 191.8L391.8 193.1L390.9 191.3Z"/>
<path fill="#fc8d59" d="M395.7 192.0L397.9 192.0L400.2 192.3L402.3 192.8L403.3 194.4L403.7 196.2L403.3 196.7L402.1 197.2L401.8 198.7L399.9 197.8L398.9 196.7L396.7 194.6L395.5 193.1Z"/>
<path fill="#ef6548" d="M408.0 183.9L408.6 182.1L409.2 182.3L410.9 178.5L409.8 176.0L412.4 175.0L417.5 176.0L423.5 176.3L425.8 174.5L429.0 174.0L431.1 176.8L433.9 178.8L439.2 180.1L443.6 180.8L443.9 185.1L441.0 187.2L437.8 188.2L434.9 189.5L435.9 191.5L438.3 191.5L436.3 192.6L433.6 194.1L432.3 193.6L430.1 191.5L432.3 189.6L428.7 189.2L427.6 188.5L426.0 189.0L424.8 189.0L424.4 192.0L421.2 191.4L420.8 188.7L418.3 185.4L416.9 184.2L412.8 185.0L409.5 184.9Z"/>
<path fill="#d7301f" d="M401.7 190.3L402.1 190.3L404.7 189.6L407.2 192.0L407.5 193.1L409.6 193.3L410.2 194.6L409.7 195.7L411.1 197.2L410.2 198.5L410.1 199.5L408.4 199.7L406.4 200.6L405.2 198.7L405.5 198.0L403.3 196.7L403.7 196.2L403.3 194.4L402.3 192.8L403.1 192.0L402.4 191.5Z"/>
<path fill="url(#nd)" stroke="#bbb" d="M405.2 198.7L406.1 197.2L408.1 198.1L408.7 198.5L408.4 199.7L406.4 200.6L406.1 199.8Z"/>
<path fill="#fc8d59" d="M401.9 199.1L401.8 198.7L402.1 197.2L403.3 196.7L405.5 198.0L405.2 198.7L404.3 198.6L403.8 199.8L403.8 200.7L402.7 199.5Z"/>
<path fill="#fdbb84" d="M403.8 200.7L403.8 199.8L404.3 198.6L405.2 198.9L406.1 199.8L406.4 200.6L406.3 202.1L407.1 203.1L407.5 203.4L406.8 205.2L405.6 206.3L404.0 204.4L404.0 201.9Z"/>
<path fill="#ef6548" d="M406.4 200.6L408.4 199.7L410.1 199.5L411.5 200.9L411.4 202.0L409.3 202.6L407.5 203.3L407.1 203.1L406.3 202.1Z"/>
<path fill="#fdd49e" d="M405.6 206.3L406.8 205.2L407.5 203.3L409.3 202.6L411.4 202.0L414.7 201.5L416.3 202.1L418.1 202.0L418.6 201.1L419.2 202.0L418.7 203.0L418.1 203.4L416.0 203.1L413.9 203.7L414.7 205.0L413.9 205.6L412.7 204.8L411.6 204.2L411.1 205.5L412.1 207.3L412.0 208.3L414.5 210.2L414.7 211.5L412.8 210.7L412.4 210.8L413.0 212.5L413.2 214.7L411.7 214.6L411.5 214.9L409.9 213.8L408.4 211.1L409.6 209.9L408.1 209.9L407.3 208.3L406.1 206.8ZM414.0 217.2L415.6 217.1L418.4 217.6L420.2 218.0L418.5 218.6L416.8 218.6L414.1 217.9ZM412.9 208.3L414.9 209.1L415.6 210.4L413.4 209.1ZM418.5 207.3L419.9 207.8L419.0 208.2ZM423.2 215.1L424.0 214.9L423.5 216.2Z"/>
<path fill="#d7301f" d="M410.2 194.6L410.9 195.7L414.1 195.9L416.2 196.0L419.2 194.9L422.6 195.8L421.6 197.7L421.5 198.5L422.0 200.3L419.8 200.2L418.6 201.1L418.1 202.0L416.3 202.1L414.7 201.5L411.4 202.0L411.5 200.9L410.1 199.5L410.2 198.5L411.1 197.2L409.7 195.7Z"/>
<path fill="#ef6548" d="M404.7 189.6L406.5 189.0L407.8 186.2L409.5 184.9L412.8 185.0L416.9 184.2L418.3 185.4L420.8 188.7L420.9 191.0L421.2 191.4L424.4 192.0L424.3 193.1L422.6 195.8L419.2 194.9L416.2 196.0L414.1 195.9L410.9 195.7L410.2 194.6L409.6 193.3L407.5 193.1L407.2 192.0Z"/>
<path fill="#ef6548" d="M416.9 184.2L419.3 183.6L422.3 185.1L424.8 189.0L422.3 189.2L421.2 191.4L420.9 191.0L420.8 188.7L418.3 185.4Z"/>
<path fill="#d7301f" d="M408.7 169.9L412.5 169.0L414.5 166.6L414.0 165.6L416.8 164.5L422.3 165.8L422.8 167.3L422.5 167.8L426.9 171.3L424.3 172.0L425.8 174.5L423.5 176.3L417.5 176.0L412.4 175.0L409.8 176.0L408.7 174.3L409.6 173.3Z"/>
<path fill="#fc8d59" d="M403.4 166.6L403.2 164.7L405.9 163.9L410.4 163.9L414.0 165.6L414.5 166.6L412.5 169.0L408.7 169.9L407.2 168.9L407.0 167.3L404.0 166.7Z"/>
<path fill="#fc8d59" d="M403.2 164.7L403.1 162.9L403.9 160.9L405.5 160.6L407.0 162.4L408.7 162.3L408.7 160.3L410.5 159.8L411.9 160.5L414.6 161.1L415.5 161.7L416.8 164.5L414.0 165.6L410.4 163.9L405.9 163.9Z"/>
<path fill="#fc8d59" d="M408.7 160.3L406.9 158.8L406.7 157.1L409.3 156.3L412.1 156.2L415.0 156.5L414.1 158.3L414.7 160.3L414.6 161.1L411.9 160.5L410.5 159.8ZM404.2 159.2L406.0 158.5L405.2 159.7ZM404.7 157.8L405.8 157.5L405.2 158.2Z"/>
<path fill="#ef6548" d="M358.2 218.3L360.8 216.7L363.0 216.2L366.2 214.6L369.5 213.8L373.8 213.8L378.1 213.0L381.6 213.6L381.0 214.6L380.8 218.5L379.4 221.1L379.4 221.6L381.2 225.0L382.8 226.1L384.0 231.1L385.0 234.2L384.8 236.0L385.2 240.7L384.1 241.5L385.5 245.2L388.9 246.5L390.0 248.6L380.0 255.4L376.2 259.0L372.5 260.1L370.5 260.3L370.3 258.2L367.1 256.9L365.7 254.8L352.1 244.7L343.6 238.6L343.6 237.7L343.7 235.0L347.5 232.9L351.9 231.6L355.0 229.2L356.4 226.9L360.1 225.8L359.3 222.4L359.1 219.8Z"/>
<path fill="#990000" d="M351.3 216.2L350.2 216.4L348.1 221.1L344.4 223.0L342.6 225.0L341.4 227.7L341.7 230.5L340.3 233.4L337.4 236.0L334.0 237.7L343.6 237.7L343.7 235.0L347.5 232.9L351.9 231.6L355.0 229.2L356.4 226.9L360.1 225.8L359.3 222.4L359.1 219.8L358.2 218.3L356.5 217.7L353.2 218.0Z"/>
<path fill="url(#nd)" stroke="#bbb" d="M334.0 237.7L330.5 241.3L329.3 246.0L326.9 249.1L324.5 254.1L324.4 255.6L324.8 254.2L333.6 254.2L333.7 249.9L336.0 248.7L336.1 242.0L343.6 242.0L343.6 237.7Z"/>
<path fill="#ef6548" d="M324.4 255.6L326.0 259.0L325.5 262.9L325.3 267.9L329.9 266.6L332.6 267.9L335.1 271.3L336.3 269.5L341.8 269.5L350.4 269.5L350.9 267.4L350.2 266.9L348.4 244.7L352.1 244.7L343.6 238.6L343.6 242.0L336.1 242.0L336.0 248.7L333.7 249.9L333.6 254.2L324.8 254.2Z"/>
<path fill="#fdbb84" d="M381.6 213.6L384.1 212.5L385.2 212.8L385.0 214.1L387.0 213.2L385.7 214.9L386.0 216.7L386.9 218.0L385.0 220.3L386.8 221.9L388.2 223.2L388.3 225.3L385.7 227.1L385.6 229.8L384.0 231.1L382.8 226.1L381.2 225.0L379.4 221.6L379.4 221.1L380.8 218.5L381.0 214.6Z"/>
<path fill="#d7301f" d="M388.2 223.2L390.4 224.3L392.2 224.0L396.4 225.6L397.6 227.9L401.7 229.2L405.1 230.8L407.2 229.0L407.0 225.8L410.2 224.0L413.5 224.8L418.1 227.1L418.6 227.5L418.6 233.7L419.5 252.5L419.7 257.7L417.4 257.7L417.5 259.0L399.1 248.7L396.8 249.9L395.1 250.9L390.0 248.6L388.9 246.5L385.5 245.2L384.1 241.5L385.2 240.7L384.8 236.0L385.0 234.2L384.0 231.1L385.6 229.8L385.7 227.1L388.3 225.3Z"/>
<path fill="#990000" d="M418.6 227.5L422.6 227.9L427.1 229.2L430.3 227.7L433.6 227.9L438.5 228.2L440.5 232.9L439.9 236.8L439.5 237.5L436.9 235.2L435.3 231.8L436.0 234.7L438.3 238.6L439.9 242.0L442.4 246.7L443.5 249.9L446.4 252.5L419.5 252.5L418.6 233.7Z"/>
<path fill="#990000" d="M446.4 252.5L419.5 252.5L419.7 257.7L417.4 257.7L417.5 259.0L417.8 269.0L415.3 269.5L414.5 272.9L414.1 274.7L413.2 276.8L414.7 281.2L415.6 281.5L417.5 284.1L417.1 287.0L418.7 287.3L420.4 283.1L423.9 285.2L427.4 285.4L430.8 283.9L434.3 284.4L437.6 278.9L439.1 278.1L439.0 282.0L441.2 285.2L441.3 281.5L443.3 278.9L445.8 276.8L446.5 272.6L447.6 270.5L447.1 266.1L450.8 262.9L448.2 260.9L447.2 255.1Z"/>
<path fill="#ef6548" d="M418.7 287.3L420.4 283.1L423.9 285.2L427.4 285.4L430.8 283.9L434.3 284.4L437.6 278.9L439.1 278.1L439.0 282.0L441.2 285.2L441.2 288.0L439.0 289.4L442.9 292.5L444.4 295.9L445.8 298.0L441.4 299.0L439.1 299.8L434.5 300.3L434.1 300.9L431.0 298.5L427.6 298.5L426.2 296.7L423.8 293.0L421.0 290.4Z"/>
<path fill="#ef6548" d="M396.8 249.9L399.1 248.7L417.5 259.0L417.8 269.0L415.3 269.5L414.5 272.9L414.1 274.7L413.2 276.8L414.7 281.2L415.6 281.5L412.8 282.3L406.7 286.5L402.1 290.1L398.7 290.4L397.5 287.8L395.2 284.1L398.6 283.9L397.4 279.9L396.5 276.8L395.3 275.8L394.1 274.2L393.9 272.4L398.3 266.1L398.2 257.7L399.3 256.4Z"/>
<path fill="#fc8d59" d="M390.0 248.6L395.1 250.9L396.8 249.9L399.3 256.4L398.2 257.7L398.3 266.1L393.9 272.4L394.1 274.2L391.6 275.8L385.9 275.2L381.3 275.2L377.9 274.5L372.6 274.7L371.3 279.4L369.4 277.6L368.5 277.8L368.0 276.8L365.3 275.0L363.7 271.1L363.5 270.8L366.4 270.0L371.0 269.5L372.6 266.9L372.5 260.1L376.2 259.0L380.0 255.4Z"/>
<path fill="#fdbb84" d="M352.1 244.7L365.7 254.8L367.1 256.9L370.3 258.2L370.5 260.3L372.5 260.1L372.6 266.9L371.0 269.5L366.4 270.0L363.5 270.8L361.4 270.5L358.4 272.9L356.1 274.5L353.1 275.5L352.7 276.8L350.8 279.2L350.4 282.8L348.8 282.3L344.8 283.3L343.9 281.2L343.0 278.6L341.7 277.6L338.5 278.6L336.9 277.6L336.9 276.0L335.1 271.3L336.3 269.5L341.8 269.5L350.4 269.5L350.9 267.4L350.2 266.9L348.4 244.7Z"/>
<path fill="#fc8d59" d="M325.3 267.9L323.0 271.6L324.5 274.5L324.5 275.8L324.7 277.6L328.6 277.1L331.6 276.8L334.6 277.6L336.9 277.6L336.9 276.0L335.1 271.3L332.6 267.9L329.9 266.6Z"/>
<path fill="#fc8d59" d="M324.5 274.5L328.7 273.9L331.4 274.7L331.4 275.5L328.6 275.2L324.5 275.8Z"/>
<path fill="#d7301f" d="M324.7 277.6L328.6 277.1L331.6 276.8L331.6 279.4L328.6 281.5L327.4 279.9L325.8 278.6Z"/>
<path fill="#fc8d59" d="M328.6 281.5L331.6 279.4L331.6 276.8L334.6 277.6L336.9 277.6L338.5 278.6L341.7 277.6L343.0 278.6L343.9 281.2L344.8 283.3L344.1 286.5L345.3 288.0L343.9 290.1L341.6 290.7L341.4 288.0L339.3 287.8L338.6 286.2L337.3 283.9L334.3 284.1L332.4 286.5L331.5 285.2L329.5 282.6Z"/>
<path fill="#fc8d59" d="M332.4 286.5L334.3 284.1L337.3 283.9L338.6 286.2L339.3 287.8L338.4 289.6L336.5 292.0L334.2 290.7L332.6 288.3Z"/>
<path fill="#ef6548" d="M336.5 292.0L338.4 289.6L339.3 287.8L341.4 288.0L341.6 290.7L343.9 290.1L343.4 293.0L345.7 294.8L345.7 298.6L342.2 296.9L338.1 293.5Z"/>
<path fill="#fc8d59" d="M345.7 298.6L345.7 294.8L343.4 293.0L343.9 290.1L345.3 288.0L344.1 286.5L344.8 283.3L348.8 282.3L350.4 282.8L352.2 284.6L356.6 284.6L356.8 286.5L355.6 293.0L356.5 296.7L355.9 296.7L352.6 296.4L349.2 297.5Z"/>
<path fill="#fdbb84" d="M350.4 282.8L350.8 279.2L352.7 276.8L353.1 275.5L356.1 274.5L358.4 272.9L361.4 270.5L363.5 270.8L363.7 271.1L365.3 275.0L368.0 276.8L368.5 277.8L368.5 278.9L366.2 280.2L365.1 281.2L362.8 281.0L356.6 281.2L356.6 284.6L352.2 284.6Z"/>
<path fill="#ef6548" d="M355.9 296.7L356.5 296.7L355.6 293.0L356.8 286.5L356.6 284.6L356.6 281.2L362.8 281.0L364.1 283.9L363.9 287.0L364.6 288.3L364.2 290.9L364.8 293.3L365.8 294.1L363.0 295.1L360.7 296.4L358.4 297.6Z"/>
<path fill="#fc8d59" d="M365.8 294.1L364.8 293.3L364.2 290.9L364.6 288.3L363.9 287.0L364.1 283.9L362.8 281.0L365.1 281.2L364.8 283.1L366.2 285.2L366.8 286.5L366.7 292.0L367.1 293.7Z"/>
<path fill="#fdbb84" d="M367.1 293.7L366.7 292.0L366.8 286.5L366.2 285.2L364.8 283.1L365.1 281.2L366.2 280.2L368.5 278.9L368.5 277.8L369.4 277.6L371.3 279.4L371.7 282.3L370.1 286.5L369.2 289.4L369.2 293.3Z"/>
<path fill="#fc8d59" d="M369.2 293.3L369.2 289.4L370.1 286.5L371.7 282.3L371.3 279.4L372.6 274.7L377.9 274.5L381.3 275.2L385.9 275.2L391.6 275.8L394.1 274.2L395.3 275.8L396.5 276.8L396.5 279.9L393.6 283.9L392.4 287.3L390.4 291.7L388.6 293.0L386.5 291.7L384.4 294.3L382.8 297.5L381.9 298.2L379.1 298.5L376.8 298.8L375.0 295.6L373.4 293.5L370.8 293.3Z"/>
<path fill="#ef6548" d="M382.8 297.5L384.4 294.3L386.5 291.7L388.6 293.0L390.4 291.7L392.4 287.3L393.6 283.9L396.5 279.9L396.5 276.8L397.4 279.9L398.6 283.9L395.2 284.1L397.5 287.8L398.7 290.4L396.6 294.3L396.7 296.9L397.8 300.3L400.2 304.2L399.5 305.3L393.7 304.2L389.1 304.2L385.6 304.0L385.4 300.9L384.9 299.5L383.5 298.2Z"/>
<path fill="#ef6548" d="M385.6 304.0L389.1 304.2L389.1 307.4L385.2 307.4Z"/>
<path fill="#fdbb84" d="M385.2 307.4L389.1 307.4L389.1 304.2L393.7 304.2L393.5 306.6L396.2 306.6L396.2 311.3L395.1 313.9L396.5 315.8L391.9 316.0L389.8 317.3L390.5 319.1L388.6 320.3L386.1 317.3L383.8 312.6L384.5 309.2Z"/>
<path fill="#ef6548" d="M388.6 320.3L390.5 319.1L389.8 317.3L391.9 316.0L396.5 315.8L395.1 313.9L396.2 311.3L396.2 306.6L393.5 306.6L393.7 304.2L399.5 305.3L400.2 304.2L401.1 301.6L405.9 300.9L404.5 303.7L404.1 309.2L401.8 313.1L399.9 317.3L399.9 320.2L398.1 321.2L396.2 322.8L393.9 322.7L393.0 322.0L391.1 323.1L390.7 323.1Z"/>
<path fill="#ef6548" d="M398.7 290.4L402.1 290.1L406.7 286.5L412.8 282.3L415.6 281.5L417.5 284.1L417.1 287.0L418.7 287.3L421.0 290.4L423.8 293.0L426.2 296.7L421.8 296.4L419.3 296.7L414.9 299.3L410.3 298.5L408.0 296.7L405.9 298.8L405.9 300.9L401.1 301.6L400.2 304.2L397.8 300.3L396.7 296.9L396.6 294.3Z"/>
<path fill="#fc8d59" d="M391.1 325.4L391.1 323.1L393.0 322.0L393.9 322.7L396.2 322.8L398.1 321.2L399.9 320.2L399.9 317.3L401.8 313.1L404.1 309.2L404.5 303.7L405.9 300.9L405.9 298.8L408.0 296.7L410.3 298.5L414.9 299.3L419.3 296.7L421.8 296.4L426.2 296.7L427.6 298.5L431.0 298.5L434.1 300.9L435.2 304.2L433.4 306.9L431.8 310.0L431.3 313.7L430.4 314.4L429.9 317.1L430.4 318.6L430.8 321.5L431.2 326.5L433.7 331.4L429.5 332.0L428.3 334.0L428.9 337.7L428.2 341.1L430.6 342.4L431.3 345.0L428.3 343.5L425.4 340.8L421.1 339.5L419.0 339.8L418.1 338.5L414.0 339.3L414.2 337.4L413.1 334.8L413.2 329.1L407.9 328.3L407.4 330.9L403.5 331.2L401.3 325.4L393.9 325.4L391.3 325.9Z"/>
<path fill="#fdbb84" d="M434.1 300.9L434.5 300.3L439.1 299.8L441.4 299.0L442.6 301.6L443.8 305.6L441.5 309.5L441.3 312.6L433.4 312.6L431.3 313.7L431.8 310.0L433.4 306.9L435.2 304.2Z"/>
<path fill="#fdd49e" d="M441.4 299.0L445.8 298.0L448.1 298.5L450.9 300.6L454.1 301.1L457.1 299.0L459.7 299.7L457.6 302.7L457.7 312.1L458.8 314.4L455.8 317.1L453.4 322.3L450.0 319.1L449.8 317.8L441.3 312.6L441.5 309.5L443.8 305.6L442.6 301.6Z"/>
<path fill="#fdbb84" d="M453.4 322.3L452.4 327.0L454.0 328.3L453.4 332.2L455.8 337.4L450.2 339.5L445.6 340.3L443.1 340.1L442.5 335.1L441.2 334.8L438.7 334.6L434.3 332.5L433.7 331.4L431.2 326.5L430.8 321.5L433.1 318.9L434.1 318.6L433.4 316.3L434.3 312.9L433.4 312.6L441.3 312.6L449.8 317.8L450.0 319.1Z"/>
<path fill="#fc8d59" d="M431.3 313.7L433.4 312.6L434.3 312.9L433.4 316.3L432.0 317.3L429.9 317.1L430.4 314.4Z"/>
<path fill="#fc8d59" d="M429.9 317.1L432.0 317.3L433.4 316.3L434.1 318.6L433.1 318.9L430.8 321.5L430.4 318.6Z"/>
<path fill="#fdbb84" d="M446.5 272.6L449.6 271.1L452.2 271.8L455.0 272.4L458.3 275.0L460.2 277.3L458.9 279.9L459.0 281.2L461.5 281.4L461.8 282.8L464.2 286.5L471.2 289.1L473.5 289.1L466.8 296.9L463.3 297.5L459.7 299.7L457.1 299.0L454.1 301.1L450.9 300.6L448.1 298.5L445.8 298.0L444.4 295.9L442.9 292.5L439.0 289.4L441.2 288.0L441.2 285.2L441.3 281.5L443.3 278.9L445.8 276.8Z"/>
<path fill="#fdbb84" d="M446.5 272.6L447.6 270.5L447.1 266.1L450.8 262.9L452.4 266.9L453.7 270.5L456.8 272.1L459.9 275.5L461.8 276.8L460.2 277.3L458.3 275.0L455.0 272.4L452.2 271.8L449.6 271.1Z"/>
<path fill="#fdbb84" d="M461.8 276.8L462.3 278.8L461.0 279.7L462.3 280.1L461.5 281.4L459.0 281.2L458.9 279.9L460.2 277.3Z"/>
<path fill="#fdd49e" d="M462.3 280.1L465.2 282.8L468.7 281.8L473.2 280.7L477.8 279.9L480.5 278.6L480.4 282.6L478.7 286.5L477.0 291.7L473.7 296.9L469.2 302.7L464.6 307.4L461.1 311.3L458.8 314.4L457.7 312.1L457.6 302.7L459.7 299.7L463.3 297.5L466.8 296.9L473.5 289.1L471.2 289.1L464.2 286.5L461.8 282.8L461.5 281.4Z"/>
<path fill="#fc8d59" d="M391.3 325.9L393.9 325.4L401.3 325.4L403.5 331.2L407.4 330.9L407.9 328.3L413.2 329.1L413.1 334.8L414.2 337.4L414.0 339.3L418.1 338.5L418.0 344.0L413.4 344.0L413.2 352.3L416.3 356.0L410.8 357.1L405.1 355.5L394.9 355.5L393.8 354.4L389.8 355.1L389.9 353.1L391.1 347.9L393.7 342.7L394.7 338.2L393.8 332.2ZM390.7 323.1L391.1 323.1L393.0 322.0L392.5 324.4L391.1 325.4Z"/>
<path fill="#ef6548" d="M418.1 338.5L419.0 339.8L421.1 339.5L425.4 340.8L428.3 343.5L431.3 345.0L430.6 342.4L428.2 341.1L428.9 337.7L428.3 334.0L429.5 332.0L433.7 331.4L434.3 332.5L438.7 334.6L439.5 338.2L439.4 342.4L437.9 345.5L439.0 346.6L432.1 348.7L432.4 350.8L429.0 351.8L424.4 357.1L420.6 356.5L416.3 356.0L413.2 352.3L413.4 344.0L418.0 344.0Z"/>
<path fill="#fc8d59" d="M438.7 334.6L441.2 334.8L442.5 335.1L443.1 340.1L442.4 341.4L444.7 347.9L444.9 351.8L443.4 354.7L441.3 351.3L442.1 347.9L439.0 346.6L437.9 345.5L439.4 342.4L439.5 338.2Z"/>
<path fill="#fdbb84" d="M455.8 337.4L456.1 342.7L456.3 347.9L455.5 350.5L451.9 354.4L447.2 357.1L442.4 361.8L441.8 364.1L443.2 367.5L442.9 372.7L437.1 376.1L436.6 380.2L434.8 380.2L434.6 377.8L435.0 374.0L433.7 368.6L436.5 365.7L437.9 361.5L437.6 357.1L438.2 353.7L434.9 352.3L432.4 350.8L432.1 348.7L439.0 346.6L442.1 347.9L441.3 351.3L443.4 354.7L444.9 351.8L444.7 347.9L442.4 341.4L443.1 340.1L445.6 340.3L450.2 339.5Z"/>
<path fill="#fdbb84" d="M420.6 356.5L424.4 357.1L429.0 351.8L432.4 350.8L434.9 352.3L438.2 353.7L437.6 357.1L437.9 361.5L436.5 365.7L433.7 368.6L429.4 368.0L426.3 366.5L425.8 363.6L422.5 361.2Z"/>
<path fill="#fdbb84" d="M420.6 356.5L422.5 361.2L425.8 363.6L426.3 366.5L429.4 368.0L426.2 369.9L423.6 372.0L420.4 376.9L414.6 376.1L411.5 380.1L409.3 380.1L408.0 374.8L408.2 367.5L410.5 367.5L410.8 357.8L416.0 357.1L418.8 357.1Z"/>
<path fill="#fdbb84" d="M389.8 355.1L393.8 354.4L394.9 355.5L405.1 355.5L410.8 357.1L416.3 356.0L420.6 356.5L418.8 357.1L416.0 357.1L410.8 357.8L410.5 367.5L408.2 367.5L408.0 374.8L407.5 384.2L405.3 385.5L401.9 385.0L399.7 384.8L397.0 380.1L395.6 372.7L395.7 368.8L393.1 363.6L390.3 358.4Z"/>
<path fill="#fdbb84" d="M399.7 384.8L400.9 388.4L403.1 393.6L403.1 397.6L403.4 399.7L406.6 401.0L411.1 399.1L415.4 399.1L419.2 398.9L423.3 397.0L426.9 393.6L430.5 389.7L432.5 386.6L435.4 383.7L436.6 380.2L434.8 380.2L434.6 377.8L435.0 374.0L433.7 368.6L429.4 368.0L426.2 369.9L423.6 372.0L420.4 376.9L414.6 376.1L411.5 380.1L409.3 380.1L408.0 374.8L407.5 384.2L405.3 385.5L401.9 385.0Z"/>
<path fill="#fc8d59" d="M422.9 387.4L425.8 385.0L428.1 386.1L428.0 388.2L425.6 390.0L423.5 389.2Z"/>
<path fill="#fdbb84" d="M432.0 379.0L433.2 377.3L434.6 377.8L434.8 380.2L432.9 381.4L432.1 380.6Z"/>
<path fill="#ef6548" d="M476.1 341.4L478.4 350.5L476.5 354.4L475.4 357.1L472.8 364.9L469.9 372.7L468.6 375.3L465.1 376.9L461.9 375.3L461.0 371.4L460.9 367.5L463.5 362.3L463.5 358.4L464.5 352.3L468.0 351.0L471.6 348.7L473.6 345.3Z"/>
<path fill="#fc8d59" d="M462.2 339.8L462.8 340.3L462.3 341.2ZM464.6 341.6L465.3 342.2L464.6 342.4Z"/>
<path fill="#fc8d59" d="M493.0 362.3L494.0 362.8L493.3 363.6Z"/>
<path fill="#fdd49e" d="M488.2 364.6L489.3 365.2L488.3 365.8Z"/>
<path fill="#fdbb84" d="M307.2 270.8L309.3 270.0L309.3 271.1ZM305.3 265.6L306.3 265.2L306.0 266.0ZM310.5 267.9L311.2 267.7L311.0 268.3Z"/>
<path fill="#fc8d59" d="M378.0 309.0L378.6 309.2L378.1 309.9Z"/>
<path fill="#fdbb84" d="M637.7 199.5L637.4 199.3L634.8 197.7L632.5 200.3L630.5 200.8L629.7 202.9L627.6 205.2L625.1 206.3L623.1 208.6L621.6 206.5L622.4 204.2L619.3 203.1L617.4 205.7L615.1 207.6L615.4 209.6L619.1 212.0L620.8 213.0L622.8 211.2L626.9 212.3L627.3 213.6L624.1 215.6L622.7 218.5L625.7 220.6L628.6 224.8L631.7 227.1L632.2 229.2L629.8 230.8L633.4 231.6L633.8 235.5L632.3 238.9L631.4 243.3L628.8 246.0L626.1 249.1L621.2 251.7L619.4 252.0L615.9 253.5L613.1 254.6L612.8 256.9L611.4 253.8L607.3 253.7L603.8 250.4L600.4 249.1L596.6 250.7L593.8 251.4L592.7 251.4L591.8 253.5L589.1 253.3L586.8 250.1L585.4 247.3L582.7 246.0L584.2 242.0L583.3 237.9L579.8 236.2L576.3 233.4L573.0 233.7L568.3 237.3L567.6 237.3L564.7 236.5L562.5 236.5L561.6 238.6L561.0 236.8L559.5 237.1L554.8 236.8L549.8 234.5L544.6 230.8L542.4 231.1L537.4 228.2L536.0 225.0L537.4 223.7L535.0 220.3L532.0 217.2L527.4 214.6L524.5 212.6L523.6 209.4L521.4 209.4L520.2 206.8L521.8 204.4L525.4 204.2L528.7 201.6L531.7 199.8L531.1 197.7L532.0 197.2L529.8 193.6L533.5 192.0L532.5 186.9L537.7 187.2L536.8 183.9L539.0 182.1L539.9 181.8L542.4 184.1L546.0 185.4L550.2 190.0L550.9 192.0L556.6 192.8L561.4 194.6L564.9 198.2L572.8 198.7L576.7 199.0L584.6 201.3L588.8 199.3L593.7 198.5L596.1 195.9L594.6 192.6L598.4 193.1L601.5 191.3L602.4 189.2L608.1 188.2L607.0 185.7L603.7 184.9L599.8 185.1L597.7 184.1L597.0 180.1L599.7 180.8L601.1 179.3L598.9 173.3L599.2 171.5L604.1 171.0L610.3 172.8L618.9 180.3L626.5 182.6L629.6 185.7L632.5 185.4L636.1 184.1L637.9 192.0L634.2 192.8L636.9 196.4L636.5 198.2ZM609.9 259.8L611.3 257.7L614.0 257.5L614.9 258.8L614.1 260.9L612.3 262.4L610.1 261.6Z"/>
<path fill="#fc8d59" d="M539.9 181.8L542.4 184.1L546.0 185.4L550.2 190.0L550.9 192.0L556.6 192.8L561.4 194.6L564.9 198.2L572.8 198.7L576.7 199.0L584.6 201.3L588.8 199.3L593.7 198.5L596.1 195.9L594.6 192.6L598.4 193.1L601.5 191.3L602.4 189.2L608.1 188.2L607.0 185.7L603.7 184.9L599.8 185.1L597.7 184.1L597.0 180.1L592.0 179.1L586.5 181.6L579.9 180.6L576.0 179.1L569.0 179.1L566.1 176.5L558.5 174.8L559.0 177.3L559.4 179.8L557.7 180.3L553.4 179.8L546.3 177.8L542.9 180.8L539.9 181.8Z"/>
<path fill="#fc8d59" d="M539.0 182.1L535.9 181.1L534.2 180.8L528.1 177.3L522.4 177.8L515.1 171.5L511.6 169.5L505.9 169.8L501.2 169.3L499.4 166.6L494.5 167.3L489.7 168.3L482.6 169.8L483.2 174.0L485.2 176.8L481.8 178.5L472.4 177.3L468.1 176.0L463.6 175.5L459.8 178.3L457.0 179.1L457.2 183.9L459.6 185.4L463.4 188.2L464.0 189.2L467.6 187.2L471.4 187.7L472.7 191.8L469.0 191.8L468.9 193.8L467.5 194.4L470.7 197.2L473.7 200.9L476.5 199.4L480.3 202.2L481.4 202.1L478.9 192.6L483.9 191.2L489.8 194.4L492.4 196.4L498.3 195.9L501.4 197.7L502.0 200.3L503.1 200.6L507.0 202.9L508.8 201.9L512.1 199.8L512.2 198.2L516.9 197.7L518.2 197.2L521.8 198.0L528.6 198.2L531.7 199.8L531.1 197.7L532.0 197.2L529.8 193.6L533.5 192.0L532.5 186.9L537.7 187.2L536.8 183.9Z"/>
<path fill="#fdbb84" d="M418.6 201.1L419.8 200.2L422.0 200.3L424.3 202.2L422.3 202.9L420.3 203.9L418.7 205.4L419.9 203.9L418.1 203.4L418.7 203.0L419.2 202.0ZM418.8 205.7L419.7 204.4L424.6 204.4L426.4 203.5L424.5 202.4L429.6 202.1L433.5 200.3L436.7 200.2L440.1 202.1L443.4 202.9L447.7 202.9L450.6 201.6L453.4 201.6L455.0 202.6L455.9 205.2L458.5 206.3L458.2 209.6L458.0 210.9L459.6 212.8L454.5 213.0L451.0 213.0L446.9 214.1L442.3 213.8L442.3 215.4L441.5 216.2L440.9 216.2L441.2 214.1L439.8 214.3L436.6 215.1L433.4 215.6L429.1 213.8L426.9 215.4L424.1 213.8L422.1 213.3L421.5 210.9L419.6 209.6L420.5 208.1L418.7 206.8Z"/>
<path fill="#fdbb84" d="M433.3 218.5L434.7 217.6L438.1 216.7L437.0 218.5L434.9 219.6Z"/>
<path fill="#ef6548" d="M446.6 196.7L450.8 197.2L454.1 198.0L457.4 198.5L461.0 200.7L461.2 202.6L458.2 202.4L455.0 202.6L453.4 201.6L450.6 201.6L450.8 200.0L448.8 197.7Z"/>
<path fill="#d7301f" d="M455.0 202.6L458.2 202.4L459.6 203.4L461.1 206.5L462.6 207.6L461.8 208.3L460.1 206.8L458.5 206.3L455.9 205.2Z"/>
<path fill="#d7301f" d="M461.0 200.7L463.0 202.1L465.2 200.7L468.0 203.9L469.8 204.4L468.3 207.3L467.8 209.5L466.3 208.1L465.3 206.3L462.6 207.6L461.1 206.5L459.6 203.4L458.2 202.4L461.2 202.6ZM458.5 206.3L460.1 206.8L461.8 208.3L460.1 208.1Z"/>
<path fill="#ef6548" d="M440.6 233.3L441.5 236.8L444.8 242.0L446.9 246.5L449.9 249.9L451.4 253.8L453.7 257.7L456.2 261.6L459.9 266.1L460.6 267.1L461.4 264.5L463.7 264.5L468.9 265.0L471.3 265.6L474.4 261.4L481.1 260.3L487.7 257.7L488.9 252.5L487.6 250.7L481.7 250.1L479.1 247.0L479.1 246.5L478.1 245.7L477.2 245.3L475.6 242.8L474.9 240.2L472.4 237.9L470.8 235.4L468.8 235.5L466.4 233.9L462.3 233.7L455.8 228.7L452.0 226.6L449.3 226.0L448.9 226.4L444.6 227.7L447.1 230.3L446.1 231.6L444.4 231.8L443.2 233.7Z"/>
<path fill="#990000" d="M440.9 216.2L442.3 215.4L442.3 213.8L446.9 214.1L451.0 213.0L454.5 213.0L452.4 214.9L452.5 220.1L448.0 222.7L443.9 225.6L441.8 224.5L441.4 223.0L442.9 220.6L441.5 219.4Z"/>
<path fill="#fdd49e" d="M440.0 223.5L441.4 223.0L442.9 220.6L441.5 219.4L440.8 220.9Z"/>
<path fill="#fef0d9" d="M438.5 228.2L439.1 227.4L440.0 223.5L441.4 223.0L441.8 224.5L441.2 224.5L441.3 227.7L440.7 232.9L440.5 232.9Z"/>
<path fill="#fc8d59" d="M440.2 227.9L440.4 225.0L441.2 225.3L441.3 227.7Z"/>
<path fill="#fc8d59" d="M440.7 233.3L443.2 233.7L444.4 231.8L446.1 231.6L447.1 230.3L444.6 227.7L448.9 226.4L449.3 226.0L448.0 222.7L443.9 225.6L441.8 224.5L441.2 224.5L441.3 227.7L440.7 232.9Z"/>
<path fill="#d7301f" d="M454.5 213.0L459.6 212.8L461.4 215.9L463.5 218.0L462.2 219.8L464.3 223.2L468.0 226.1L468.4 229.0L470.5 231.6L469.4 231.7L468.7 231.3L467.2 231.6L466.4 233.9L462.3 233.7L455.8 228.7L452.0 226.6L449.3 226.0L448.0 222.7L452.5 220.1L452.4 214.9Z"/>
<path fill="#fdbb84" d="M466.4 233.9L467.2 231.6L468.7 231.3L469.4 231.7L470.8 235.4L468.8 235.5Z"/>
<path fill="#990000" d="M460.6 267.1L460.6 270.8L462.2 275.2L462.7 276.9L466.1 276.5L470.6 274.5L474.5 273.4L478.4 270.8L482.2 269.2L484.1 266.5L481.1 260.3L474.4 261.4L471.3 265.6L468.9 265.0L463.7 264.5L461.4 264.5Z"/>
<path fill="#fc8d59" d="M484.1 266.5L487.2 265.6L489.3 263.5L491.5 262.7L494.1 260.3L494.0 256.9L496.2 256.2L498.0 251.2L495.0 248.3L491.3 247.3L489.7 244.9L488.9 246.0L488.6 246.7L487.6 250.7L488.9 252.5L487.7 257.7L481.1 260.3ZM488.7 241.9L489.3 241.0L489.5 242.8L488.8 242.8Z"/>
<path fill="#fdbb84" d="M479.1 246.5L479.1 247.0L481.7 250.1L487.6 250.7L488.6 246.7L488.9 246.0L489.7 244.9L489.5 242.8L488.8 242.8L488.7 241.9L487.1 243.6L485.4 246.2L482.3 246.7Z"/>
<path fill="#fdbb84" d="M477.2 245.3L478.1 245.7L478.8 243.9L477.9 241.6L477.0 243.3Z"/>
<path fill="#fdbb84" d="M476.0 241.4L476.5 241.5L476.3 242.4Z"/>
<path fill="#fdbb84" d="M458.5 206.3L460.1 208.1L461.8 208.3L462.6 207.6L465.3 206.3L466.3 208.1L467.8 209.5L469.2 212.0L471.5 212.8L475.4 214.3L479.4 213.6L479.2 212.4L481.2 210.7L483.9 210.4L486.0 210.2L488.9 211.5L491.3 212.8L495.3 214.3L495.9 216.9L496.2 219.3L495.6 222.2L497.3 227.7L499.4 227.9L498.1 232.0L500.4 234.2L503.0 236.3L504.5 238.9L504.5 240.5L501.3 244.1L495.4 243.6L491.6 243.1L490.2 239.4L488.2 239.4L485.4 240.5L480.5 238.1L476.5 235.0L474.3 231.6L471.3 230.8L470.5 231.6L468.4 229.0L468.0 226.1L464.3 223.2L462.2 219.8L463.5 218.0L461.4 215.9L459.6 212.8L458.0 210.9L458.2 209.6Z"/>
<path fill="#990000" d="M495.9 216.9L498.9 217.7L502.6 215.1L506.3 212.4L509.2 212.8L512.6 211.7L513.9 210.9L516.3 209.6L517.5 213.8L521.4 212.3L524.5 212.6L522.9 213.8L518.2 214.9L518.2 219.3L516.0 221.1L515.7 225.0L512.9 227.1L510.0 229.2L510.0 232.0L501.8 233.2L498.1 232.0L499.4 227.9L497.3 227.7L495.6 222.2L496.2 219.3Z"/>
<path fill="#990000" d="M479.2 212.4L478.3 208.1L476.0 206.3L475.4 203.7L474.9 202.6L476.7 200.3L473.7 200.9L476.5 199.4L480.3 202.2L481.4 202.1L483.5 202.1L483.3 200.6L485.9 198.5L489.2 199.8L490.0 201.9L494.0 202.6L496.0 205.5L500.8 208.2L506.1 210.7L506.3 212.4L502.6 215.1L498.9 217.7L495.9 216.9L495.3 214.3L491.3 212.8L488.9 211.5L486.0 210.2L483.9 210.4L481.2 210.7Z"/>
<path fill="#990000" d="M481.4 202.1L478.9 192.6L483.9 191.2L489.8 194.4L492.4 196.4L498.3 195.9L501.4 197.7L502.0 200.3L503.1 200.6L507.0 202.9L508.8 201.9L512.1 199.8L513.5 201.6L517.7 203.4L515.4 205.0L512.9 205.0L512.5 203.1L509.9 203.7L508.8 205.0L509.8 210.2L509.2 212.8L506.3 212.4L506.1 210.7L500.8 208.2L496.0 205.5L494.0 202.6L490.0 201.9L489.2 199.8L485.9 198.5L483.3 200.6L483.5 202.1Z"/>
<path fill="#990000" d="M509.2 212.8L509.8 210.2L508.8 205.0L509.9 203.7L512.5 203.1L512.9 205.0L513.3 206.5L510.8 206.8L516.3 207.3L520.2 206.8L521.4 209.4L523.6 209.4L524.5 212.6L521.4 212.3L517.5 213.8L516.3 209.6L513.9 210.9L512.6 211.7Z"/>
<path fill="#d7301f" d="M512.1 199.8L512.2 198.2L516.9 197.7L518.2 197.2L521.8 198.0L528.6 198.2L531.7 199.8L528.7 201.6L525.4 204.2L521.8 204.4L520.2 206.8L516.3 207.3L510.8 206.8L513.3 206.5L512.9 205.0L515.4 205.0L517.7 203.4L513.5 201.6Z"/>
<path fill="#fdbb84" d="M501.3 244.1L507.8 244.1L512.3 243.6L514.3 245.4L516.6 248.0L517.8 246.5L522.7 245.7L519.2 237.3L524.9 234.2L527.6 229.0L526.6 224.5L524.3 219.3L532.0 217.2L527.4 214.6L524.5 212.6L522.9 213.8L518.2 214.9L518.2 219.3L516.0 221.1L515.7 225.0L512.9 227.1L510.0 229.2L510.0 232.0L501.8 233.2L498.1 232.0L500.4 234.2L503.0 236.3L504.5 238.9L504.5 240.5Z"/>
<path fill="#fdbb84" d="M516.6 248.0L518.9 251.7L522.2 255.4L526.0 255.1L527.0 252.0L528.4 260.3L530.8 268.2L533.6 274.7L536.3 279.9L539.0 286.5L541.5 288.9L542.9 286.7L545.1 285.7L546.4 283.1L547.0 275.5L546.0 270.0L550.7 266.6L555.6 260.3L559.7 256.4L559.8 253.8L563.8 253.5L564.4 253.0L562.8 246.5L561.0 244.9L561.0 241.3L564.3 242.0L564.6 243.9L570.6 244.7L568.5 248.3L571.1 249.1L572.5 254.3L573.8 252.0L573.1 247.3L575.5 243.3L576.1 240.5L579.8 238.9L579.8 236.2L576.3 233.4L573.0 233.7L568.3 237.3L568.8 239.8L563.9 240.2L561.6 238.6L561.0 236.8L559.5 237.1L560.3 241.0L553.2 240.2L549.1 238.4L541.2 234.7L541.3 231.1L542.4 231.1L537.4 228.2L536.0 225.0L537.4 223.7L535.0 220.3L532.0 217.2L524.3 219.3L526.6 224.5L527.6 229.0L524.9 234.2L519.2 237.3L522.7 245.7L517.8 246.5Z"/>
<path fill="#fdd49e" d="M541.2 234.7L549.1 238.4L553.2 240.2L560.3 241.0L559.5 237.1L554.8 236.8L549.8 234.5L544.6 230.8L542.4 231.1L541.3 231.1Z"/>
<path fill="#fdbb84" d="M561.6 238.6L563.9 240.2L568.8 239.8L567.6 237.3L564.7 236.5L562.5 236.5Z"/>
<path fill="#fc8d59" d="M564.4 253.0L562.8 246.5L561.0 244.9L561.0 241.3L564.3 242.0L564.6 243.9L570.6 244.7L568.5 248.3L571.1 249.1L572.5 254.3L572.1 255.9L570.4 251.7L567.3 251.2L566.4 252.8Z"/>
<path fill="#fc8d59" d="M547.4 284.4L549.8 287.8L551.4 290.4L551.0 293.3L548.8 294.4L547.1 293.0L546.7 289.1Z"/>
<path fill="#d7301f" d="M572.1 255.9L575.2 259.0L578.2 264.3L578.3 268.2L581.1 268.7L583.7 266.1L585.6 266.9L586.7 272.1L588.9 277.3L589.6 283.9L590.3 281.2L591.1 277.3L589.3 272.9L587.4 270.0L587.9 266.9L584.8 262.2L585.4 258.5L589.9 256.8L590.6 254.3L591.8 253.5L589.1 253.3L586.8 250.1L585.4 247.3L582.7 246.0L584.2 242.0L583.3 237.9L579.8 236.2L579.8 238.9L576.1 240.5L575.5 243.3L573.1 247.3L573.8 252.0L572.5 254.3Z"/>
<path fill="#fdd49e" d="M589.9 256.8L585.4 258.5L584.8 262.2L587.9 266.9L587.4 270.0L589.3 272.9L591.1 277.3L590.3 281.2L589.6 283.9L589.2 288.3L591.7 291.2L593.6 293.1L595.8 294.8L598.3 293.7L595.6 292.0L593.8 287.8L591.4 285.7L591.1 281.8L592.2 276.5L593.4 274.7L594.5 276.8L597.6 278.1L599.1 279.4L597.5 274.7L598.7 272.6L603.7 272.5L604.2 269.5L602.0 266.9L600.1 262.9L596.7 262.9L593.2 264.3L592.7 259.0L591.1 259.0Z"/>
<path fill="#ef6548" d="M589.9 256.8L591.1 259.0L592.7 259.0L593.2 264.3L596.7 262.9L600.1 262.9L602.0 266.9L604.2 269.5L603.7 272.5L605.5 272.4L608.8 271.6L608.6 269.5L605.7 265.6L601.7 261.1L599.1 259.0L600.5 256.7L596.3 255.6L593.8 251.4L592.7 251.4L591.8 253.5L590.6 254.3Z"/>
<path fill="#fdbb84" d="M593.8 251.4L596.6 250.7L600.4 249.1L603.8 250.4L607.3 253.7L604.7 255.6L603.2 259.6L605.4 263.5L609.9 267.9L612.9 273.4L613.7 278.6L611.1 281.8L608.4 283.1L607.9 285.2L605.0 287.3L603.9 284.4L603.0 282.8L606.0 281.2L606.2 279.4L609.5 277.8L608.8 271.6L608.6 269.5L605.7 265.6L601.7 261.1L599.1 259.0L600.5 256.7L596.3 255.6Z"/>
<path fill="#fdbb84" d="M599.1 279.4L597.5 274.7L598.7 272.6L603.7 272.5L605.5 272.4L608.8 271.6L609.5 277.8L606.2 279.4L606.0 281.2L603.0 282.8L600.8 282.3L599.7 280.7Z"/>
<path fill="#fdbb84" d="M593.6 293.1L595.8 294.8L598.3 293.7L601.4 297.5L601.9 302.7L603.6 306.3L602.0 306.6L598.9 304.2L596.8 302.2L595.0 298.2L594.2 295.4ZM616.0 304.8L619.2 305.6L620.1 303.2L623.8 301.6L625.9 298.2L629.0 295.9L630.8 293.8L632.0 291.7L634.2 293.8L637.8 296.1L635.6 298.0L634.3 299.1L630.1 298.8L629.5 302.2L627.8 305.3L623.9 306.3L621.1 307.5L618.1 307.6Z"/>
<path fill="#fdbb84" d="M626.1 298.0L628.9 296.9L628.7 298.8L627.6 299.3Z"/>
<path fill="#fc8d59" d="M582.7 295.4L587.8 296.4L590.7 300.1L594.5 303.5L597.3 305.3L600.8 308.2L602.7 311.3L604.3 313.9L607.6 317.8L607.1 325.2L605.5 325.2L603.4 324.9L599.0 320.5L596.1 316.5L594.6 312.4L591.6 307.9L589.2 304.0L585.6 300.3L582.7 296.4ZM605.3 327.8L607.3 325.4L609.6 325.6L613.0 327.3L617.5 327.8L618.8 326.7L622.6 328.3L626.4 330.4L626.4 332.7L621.9 332.0L616.2 331.2L611.6 330.4L608.0 329.3ZM626.8 331.4L629.0 331.7L628.0 333.0ZM629.7 332.0L631.5 332.0L630.8 333.3ZM631.8 332.0L636.9 331.7L636.5 333.0L632.1 333.5ZM638.9 332.2L645.6 331.7L645.5 333.0L639.0 333.3ZM636.6 334.8L640.6 336.1L638.7 336.9L636.6 335.6ZM646.8 336.9L648.4 334.6L650.5 333.5L650.6 335.1L648.9 336.7ZM614.6 306.1L616.0 304.8L618.1 307.6L621.1 307.5L623.9 306.3L627.8 305.3L629.5 302.2L630.1 298.8L634.3 299.1L634.8 302.2L635.4 304.8L637.8 307.4L635.0 307.9L634.3 311.3L632.0 313.9L631.4 317.8L630.6 320.5L627.3 320.7L623.7 318.6L620.7 319.1L617.3 317.6L617.0 313.9L614.7 310.8ZM639.6 307.9L641.9 306.6L647.0 307.6L652.0 305.8L650.5 309.0L647.0 309.0L642.4 309.0L640.8 312.4L643.5 312.6L647.7 312.4L644.6 314.7L643.4 316.5L645.6 319.1L647.1 322.5L645.0 323.9L643.2 321.8L642.3 317.3L640.8 317.8L640.5 324.4L638.5 324.4L638.7 319.1L637.2 317.1L638.4 312.6ZM657.3 304.8L660.1 306.1L658.5 308.7L659.2 312.1L657.9 309.2L657.4 307.4ZM658.4 317.8L664.8 318.6L661.8 319.4L658.3 318.9ZM653.8 318.4L656.3 318.6L654.8 319.9ZM665.5 312.1L668.9 311.0L672.4 312.1L674.5 318.6L678.1 315.8L681.6 314.2L688.4 316.8L687.3 333.8L683.0 330.9L680.6 331.7L680.2 328.3L682.7 328.3L681.1 324.4L676.6 322.0L671.0 320.5L669.3 320.5L667.6 317.6L671.1 316.5L667.7 315.2L665.4 313.7ZM672.3 325.2L673.5 324.4L673.1 327.3L672.2 326.7ZM664.6 329.6L666.3 328.8L665.7 330.9Z"/>
<path fill="#fc8d59" d="M650.5 333.5L655.9 332.0L654.7 333.5L650.6 335.1Z"/>
<path fill="#fc8d59" d="M637.2 261.6L640.8 261.6L641.7 265.6L640.7 268.7L641.5 272.6L644.6 273.7L647.5 277.1L645.6 276.0L643.5 274.5L641.2 274.2L639.3 273.7L639.5 271.8L637.8 271.3L636.6 267.7L637.2 264.3ZM638.8 275.0L641.1 275.2L641.2 277.8ZM648.0 277.3L650.8 277.8L651.4 281.0L650.0 280.5ZM648.6 280.2L650.1 281.8L650.3 283.9L649.5 283.1ZM642.9 279.2L645.3 279.9L644.7 282.6L643.3 282.3ZM646.2 281.5L646.4 286.2L644.6 284.1ZM646.5 282.8L647.7 280.7L647.3 283.9ZM637.1 280.5L637.5 282.6L632.9 288.0L633.3 286.5ZM644.0 291.7L644.1 289.4L646.7 287.5L650.1 286.7L651.5 284.4L653.6 287.0L654.3 290.9L653.8 293.5L652.3 295.1L651.6 292.2L648.9 293.3L648.5 290.4L646.2 290.4L644.5 291.8ZM647.6 284.1L649.1 283.9L648.8 284.9Z"/>
<path fill="#fdd49e" d="M635.8 243.9L637.1 244.7L636.9 249.9L636.1 252.8L633.9 249.9L633.8 247.3L634.8 244.7Z"/>
<path fill="#ef6548" d="M627.6 205.2L629.7 202.9L630.5 200.8L632.5 200.3L634.8 197.7L637.4 199.3L637.7 199.5L637.0 201.9L637.9 203.4L635.4 205.5L635.3 207.3L638.1 209.1L635.5 209.9L634.3 211.3L631.7 210.9L631.3 208.9L630.1 206.8Z"/>
<path fill="#fef0d9" d="M634.3 211.3L635.5 209.9L638.1 209.1L642.3 213.3L644.1 217.2L643.0 218.8L640.9 219.3L638.8 220.1L637.6 217.2L636.5 213.8ZM639.4 222.7L640.9 222.4L640.5 223.2Z"/>
<path fill="#fef0d9" d="M661.9 201.9L665.0 205.5L666.5 208.1L665.5 209.9L667.2 213.6L668.6 216.7L667.4 218.8L665.5 219.3L661.7 219.6L661.8 220.3L660.3 222.4L657.9 220.3L658.1 219.3L654.3 220.1L651.9 221.1L649.1 221.1L649.6 219.8L651.3 217.2L654.6 216.9L658.2 216.7L658.3 213.8L658.7 212.0L659.6 213.8L661.4 212.3L662.0 209.4L661.2 206.0L660.0 203.9L659.7 202.4L660.7 201.6ZM659.0 201.6L660.6 200.8L664.7 200.3L667.1 196.9L664.9 194.4L660.3 194.6L655.3 191.3L656.9 193.8L658.3 196.9L656.4 197.2L657.4 199.8ZM652.8 221.6L656.2 220.3L657.6 221.6L657.1 223.0L655.1 224.5L653.1 223.0ZM649.2 221.4L651.4 222.4L652.6 224.3L652.7 227.9L651.8 229.0L650.2 227.7L649.2 225.0L647.5 223.7L647.6 222.4ZM649.1 241.5L650.0 239.9L649.7 241.3Z"/>
<path fill="#fef0d9" d="M690.3 338.0L692.0 342.7L691.4 347.1L695.1 349.2L695.5 355.7L695.4 359.4L699.7 362.8L700.9 367.5L702.9 371.4L705.6 375.3L705.5 380.6L704.9 384.8L701.0 391.0L696.7 395.7L693.4 398.9L688.6 404.1L685.8 408.0L681.1 409.1L675.9 412.2L674.0 410.4L673.5 409.3L670.2 411.4L665.8 409.6L664.7 406.7L665.6 403.6L663.1 403.1L664.7 401.0L665.3 396.3L663.5 398.9L661.0 402.0L659.3 401.0L658.3 400.7L657.4 396.3L653.6 393.6L651.9 392.3L647.3 392.9L640.1 394.4L635.0 396.3L633.0 398.6L628.6 398.6L623.7 399.9L619.7 401.7L615.6 401.2L614.2 399.7L616.3 397.0L617.9 393.1L617.9 388.4L617.7 383.2L617.3 378.5L618.0 374.0L619.7 369.1L621.2 367.0L624.4 365.7L628.1 363.8L632.9 362.3L637.6 361.2L641.1 357.1L641.5 354.4L644.3 355.2L645.5 352.3L648.6 350.3L651.4 346.6L654.8 346.6L656.3 348.9L659.1 348.9L660.1 345.3L662.9 342.4L667.0 341.4L667.2 339.5L672.7 341.6L676.8 341.4L674.6 344.8L672.8 348.7L675.8 351.3L679.9 353.9L683.0 355.7L685.5 351.8L687.1 346.6L688.1 342.7L689.1 338.8ZM669.8 416.3L673.0 417.4L677.1 416.9L674.9 420.2L671.5 422.8L668.7 423.8L668.0 421.8L669.1 419.2ZM659.5 403.3L661.8 403.1L662.5 403.8L659.9 404.2ZM661.9 339.8L664.4 339.5L663.6 341.0L662.0 340.8ZM675.5 346.1L676.4 346.6L675.5 347.4Z"/>
<path fill="#fdd49e" d="M739.8 399.9L741.6 402.8L740.4 406.4L743.3 405.7L741.9 408.3L744.6 409.1L747.1 408.5L743.7 411.9L740.8 413.0L739.7 414.5L735.6 417.1L732.7 418.7L732.4 417.9L734.7 415.8L734.7 414.0L734.1 412.7L736.7 411.4L738.7 408.8L740.0 405.4L739.7 402.0ZM729.6 415.8L731.3 416.9L730.6 418.9L725.8 422.3L723.3 424.1L718.7 425.9L714.9 429.5L710.4 431.5L707.9 431.5L705.5 430.3L707.3 428.2L712.5 425.1L718.9 422.3L723.7 419.7L727.1 417.1ZM706.0 432.1L707.0 432.3L705.4 433.3Z"/>
<path fill="#ef6548" d="M688.4 316.8L693.0 318.9L696.4 319.9L699.2 323.1L702.9 325.7L703.5 327.5L701.6 327.8L702.2 329.6L704.6 333.5L708.8 336.9L707.6 337.7L702.0 336.1L699.0 332.2L695.7 330.1L693.2 332.2L691.9 334.0L687.3 333.8ZM704.8 324.6L708.8 324.4L712.5 321.0L714.3 321.2L713.4 324.4L708.6 326.5ZM711.0 316.8L714.8 319.9L715.8 322.3L715.3 320.5L711.5 317.6ZM719.6 324.4L722.1 327.8L720.6 327.0Z"/>
<path fill="#990000" d="M723.3 327.3L725.9 329.1L724.5 329.6ZM725.8 330.9L730.9 332.2L728.2 329.6ZM729.8 334.0L732.8 335.9L731.6 334.3ZM732.4 331.7L734.1 334.8L732.9 335.1ZM733.4 336.7L736.0 338.2L734.8 336.7ZM724.8 331.4L726.5 332.5L725.3 333.0Z"/>
<path fill="#d7301f" d="M744.0 348.4L744.9 350.5L743.7 350.8ZM744.7 351.8L745.7 353.1L744.8 353.4Z"/>
<path fill="url(#nd)" stroke="#bbb" d="M734.5 362.0L736.3 362.3L738.8 365.2L740.7 368.0L739.8 369.1L737.8 368.0L735.4 365.2L734.3 363.1Z"/>
<path fill="#d7301f" d="M766.8 355.5L768.9 355.4L769.6 357.1L766.8 357.6ZM770.5 353.4L773.8 352.2L773.2 353.7L771.0 354.3Z"/>
<path fill="#ef6548" d="M-32.3 345.5L-31.9 345.1L-31.3 345.5L-31.7 346.0ZM-30.5 346.5L-30.1 346.1L-29.6 346.5L-30.0 346.9Z"/>
<path fill="#ef6548" d="M-33.9 365.3L-33.6 364.9L-33.2 365.3L-33.5 365.6ZM-32.8 358.7L-32.6 358.5L-32.2 358.7L-32.5 359.0Z"/>
<path fill="#d7301f" d="M762.1 306.3L762.4 306.1L762.7 306.3L762.4 306.6ZM-0.7 305.2L-0.3 304.8L0.0 305.2L-0.4 305.5ZM765.7 311.3L765.9 311.1L766.2 311.3L765.9 311.5Z"/>
<path fill="#d7301f" d="M727.0 292.0L727.4 291.6L727.8 292.0L727.4 292.3ZM712.3 290.7L712.5 290.4L712.8 290.7L712.6 290.9ZM680.3 285.2L680.5 284.9L680.8 285.2L680.6 285.4ZM738.5 296.1L738.8 295.9L739.0 296.1L738.8 296.4Z"/>
<path fill="#d7301f" d="M757.0 291.4L757.3 291.2L757.6 291.4L757.3 291.7ZM748.6 287.3L748.8 287.0L749.1 287.3L748.9 287.5Z"/>
<path fill="#ef6548" d="M672.5 290.4L672.8 290.1L673.1 290.4L672.8 290.7Z"/>
<path fill="#990000" d="M748.1 311.3L748.4 311.1L748.6 311.3L748.4 311.5Z"/>
<path fill="#d7301f" d="M775.1 332.2L775.4 332.0L775.6 332.2L775.3 332.4Z"/>
<path fill="#fc8d59" d="M221.9 265.3L222.2 265.0L222.5 265.3L222.1 265.6ZM222.3 267.7L222.7 267.3L223.0 267.7L222.6 268.0ZM222.5 269.7L222.9 269.5L223.2 269.7L222.8 270.0ZM223.1 271.7L223.5 271.4L223.8 271.7L223.5 272.0ZM223.1 273.7L223.4 273.4L223.6 273.7L223.3 273.9ZM222.5 275.5L222.8 275.3L223.0 275.5L222.8 275.7ZM226.3 275.6L226.6 275.4L226.8 275.6L226.5 275.9ZM221.2 278.4L221.5 278.1L221.7 278.4L221.5 278.6ZM219.9 264.8L220.2 264.5L220.4 264.8L220.1 265.0ZM215.3 262.2L215.6 261.9L215.9 262.2L215.6 262.4Z"/>
<path fill="#fdd49e" d="M532.3 299.0L532.5 298.8L532.8 299.0L532.5 299.3ZM531.7 303.5L531.9 303.3L532.2 303.5L532.0 303.7ZM531.6 309.2L531.8 309.0L532.0 309.2L531.8 309.4ZM531.9 294.3L532.1 294.1L532.4 294.3L532.2 294.5Z"/>
<path fill="#fdbb84" d="M490.7 322.2L491.0 321.9L491.3 322.2L491.0 322.4Z"/>
<path fill="#fc8d59" d="M1.1 365.4L1.3 365.2L1.6 365.4L1.4 365.7Z"/>
<path fill="#fc8d59" d="M-23.2 359.8L-23.0 359.5L-22.7 359.8L-22.9 360.0Z"/>
<path fill="#fc8d59" d="M-27.8 347.4L-27.6 347.1L-27.3 347.4L-27.5 347.6Z"/>
<path fill="#fc8d59" d="M-32.3 334.0L-32.1 333.9L-31.9 334.0L-32.1 334.2Z"/>
<path fill="#fff" d="M198.8 282.0L199.8 283.9L199.5 285.7L198.1 286.2L197.3 284.4L197.8 282.6ZM475.0 202.6L475.2 200.9L476.8 200.7L477.8 202.1L477.5 203.5L476.0 203.7Z"/>
</g></svg>
<svg class="abs" style="left:0;top:490px" width="850" height="50" viewBox="0 490 850 50">
<defs><pattern id="hl" patternUnits="userSpaceOnUse" width="4" height="4" patternTransform="rotate(45)"><rect width="4" height="4" fill="#fff"/><line x1="2" y1="0" x2="2" y2="4" stroke="#d8d8d8" stroke-width="1.1"/></pattern></defs>
<rect x="186.5" y="517" width="47.5" height="11.5" fill="url(#hl)" stroke="#c4c4c4" stroke-width="0.8"/>
<line x1="209.8" y1="513.5" x2="209.8" y2="517" stroke="#c4c4c4" stroke-width="0.8"/>
<g stroke="#c9c9c9" stroke-width="0.6">
<rect x="253.4" y="517" width="58.55" height="11.5" fill="#fef0d9"/>
<rect x="311.95" y="517" width="58.55" height="11.5" fill="#fdd49e"/>
<rect x="370.5" y="517" width="58.55" height="11.5" fill="#fdbb84"/>
<rect x="429.05" y="517" width="58.55" height="11.5" fill="#fc8d59"/>
<rect x="487.6" y="517" width="58.55" height="11.5" fill="#ef6548"/>
<rect x="546.15" y="517" width="58.55" height="11.5" fill="#d7301f"/>
<path d="M604.7 517H659.3L663.7 522.75L659.3 528.5H604.7Z" fill="#990000"/>
</g>
<g stroke="#666" stroke-width="0.7" opacity="0.6">
<line x1="253.4" y1="514" x2="253.4" y2="528.5"/><line x1="311.95" y1="514" x2="311.95" y2="528.5"/><line x1="370.5" y1="514" x2="370.5" y2="528.5"/><line x1="429.05" y1="514" x2="429.05" y2="528.5"/><line x1="487.6" y1="514" x2="487.6" y2="528.5"/><line x1="546.15" y1="514" x2="546.15" y2="528.5"/><line x1="604.7" y1="514" x2="604.7" y2="528.5"/>
</g>
<g font-family="Liberation Sans, sans-serif" font-size="12.6" fill="#4e4e4e" text-anchor="middle">
<text x="210" y="509.6" textLength="46" lengthAdjust="spacingAndGlyphs">No data</text>
<text x="253.4" y="509.7" textLength="7.6" lengthAdjust="spacingAndGlyphs">0</text><text x="311.95" y="509.7" textLength="15" lengthAdjust="spacingAndGlyphs">50</text><text x="370.5" y="509.7" textLength="22.4" lengthAdjust="spacingAndGlyphs">100</text><text x="429.05" y="509.7" textLength="22.4" lengthAdjust="spacingAndGlyphs">150</text><text x="487.6" y="509.7" textLength="22.4" lengthAdjust="spacingAndGlyphs">200</text><text x="546.15" y="509.7" textLength="22.4" lengthAdjust="spacingAndGlyphs">250</text><text x="604.7" y="509.7" textLength="22.4" lengthAdjust="spacingAndGlyphs">300</text>
</g>
</svg>
<div id="f1" class="abs foot" style="left:16px;top:548px;transform:scaleX(0.968)"><b>Data source:</b> IHME, Global Burden of Disease (2025)</div>
<div id="f2" class="abs foot" style="left:16px;top:568.5px;transform:scaleX(0.986)"><b>Note:</b> To allow for comparisons between countries and over time, this metric is age-standardized.</div>
<div id="f3" class="abs foot" style="right:20px;top:548px;transform-origin:right center;transform:scaleX(0.977)">OurWorldinData.org/cardiovascular-diseases | CC BY</div>
</body></html>
